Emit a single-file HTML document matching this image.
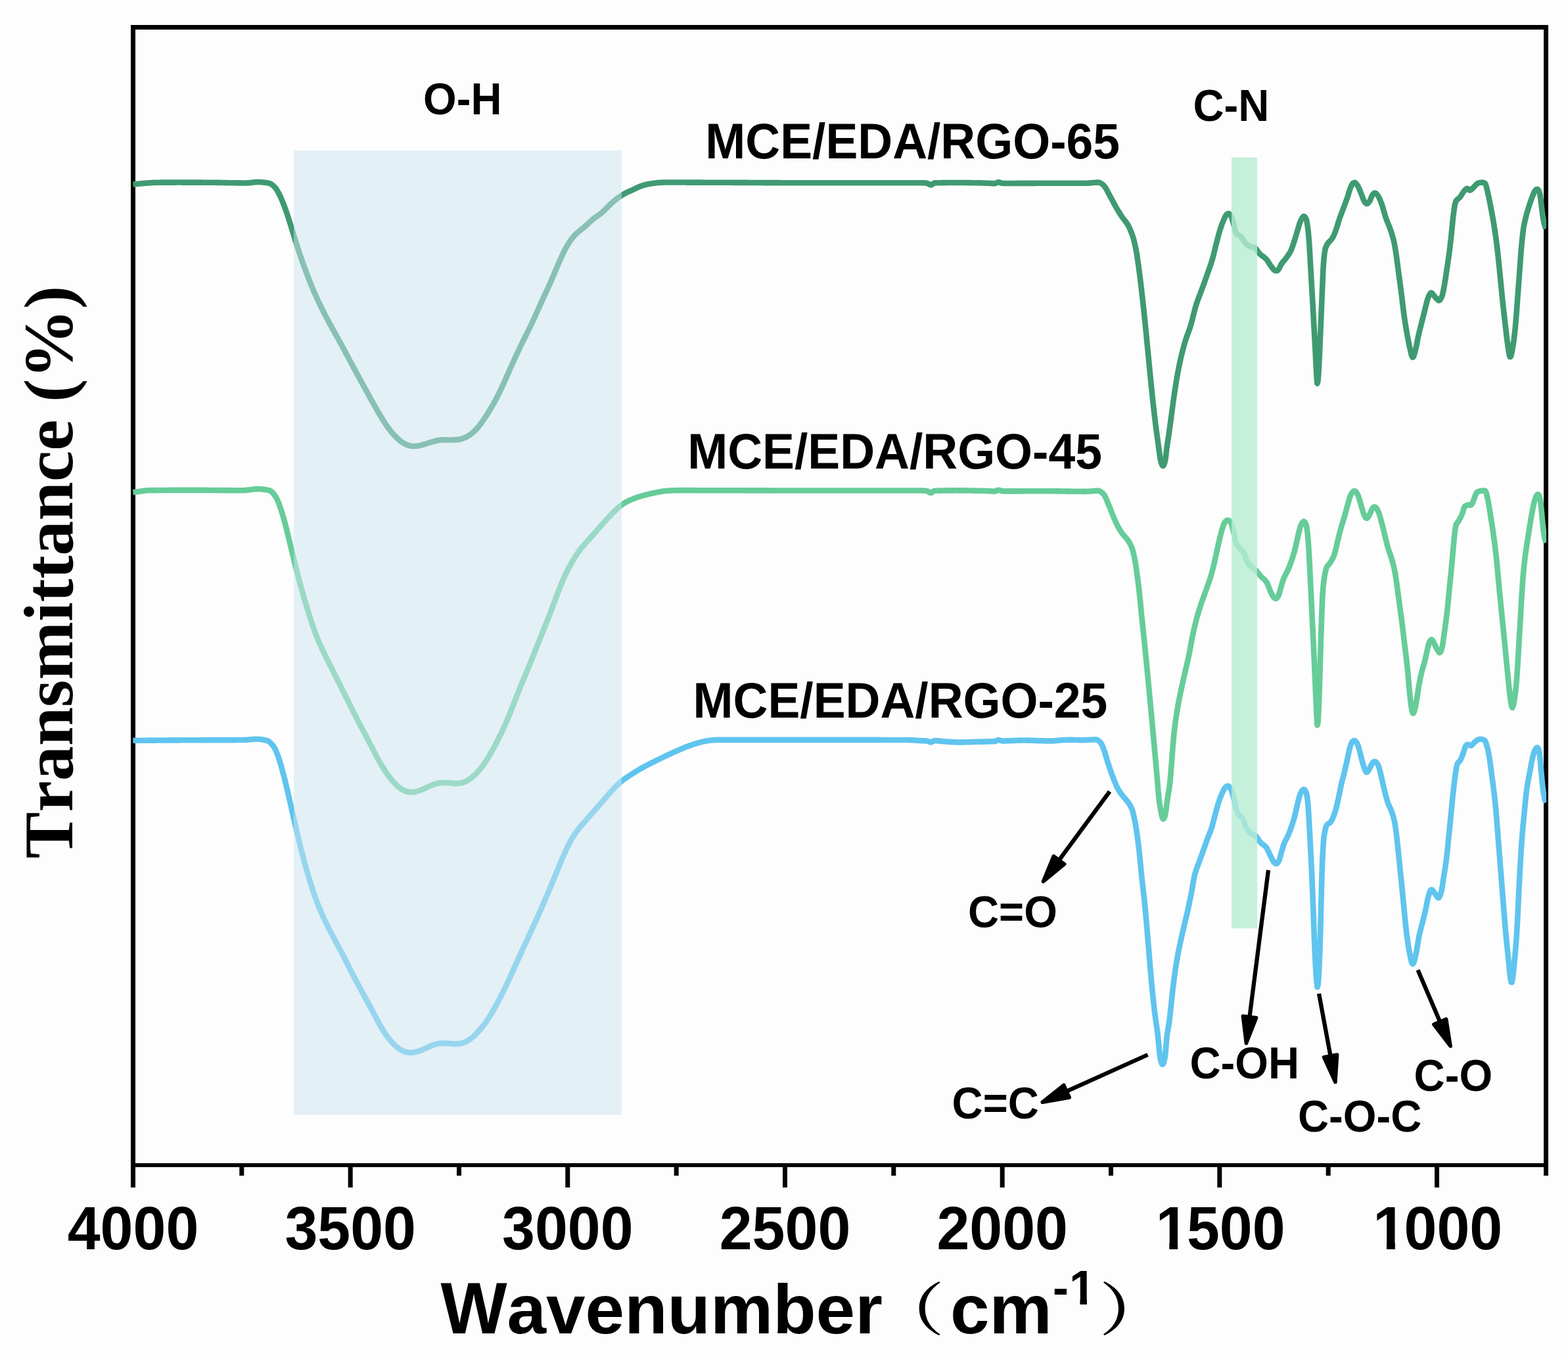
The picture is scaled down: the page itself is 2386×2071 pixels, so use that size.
<!DOCTYPE html>
<html lang="en"><head><meta charset="utf-8"><title>FTIR spectra</title>
<style>
html,body{margin:0;padding:0;background:#fdfdfd;}
body{width:2386px;height:2071px;overflow:hidden;}
svg{display:block;}
text{font-kerning:none;}
.a{font-family:"Liberation Sans",Arial,sans-serif;font-weight:bold;fill:#000;}
.s{font-family:"Liberation Serif","Times New Roman",serif;font-weight:bold;fill:#000;}
.c{font-family:"Noto Serif CJK SC","Noto Sans CJK SC",serif;font-weight:600;fill:#000;}
</style></head>
<body>
<svg xmlns="http://www.w3.org/2000/svg" width="2386" height="2071" viewBox="0 0 2386 2071">
<rect x="0" y="0" width="2386" height="2071" fill="#fdfdfd"/>
<defs><clipPath id="plot"><rect x="202.0" y="45" width="2151.0" height="1725"/></clipPath></defs>
<g fill="#000">
<rect x="199" y="38" width="2157" height="7"/>
<rect x="199" y="38" width="7" height="1769"/>
<rect x="2349" y="38" width="7" height="1751"/>
<rect x="199" y="1770" width="2157" height="6"/>
<rect x="529.7" y="1770" width="7" height="37"/>
<rect x="860.3" y="1770" width="7" height="37"/>
<rect x="1191.0" y="1770" width="7" height="37"/>
<rect x="1521.7" y="1770" width="7" height="37"/>
<rect x="1852.3" y="1770" width="7" height="37"/>
<rect x="2183.0" y="1770" width="7" height="37"/>
<rect x="364.3" y="1770" width="7" height="19"/>
<rect x="695.0" y="1770" width="7" height="19"/>
<rect x="1025.7" y="1770" width="7" height="19"/>
<rect x="1356.3" y="1770" width="7" height="19"/>
<rect x="1687.0" y="1770" width="7" height="19"/>
<rect x="2017.7" y="1770" width="7" height="19"/>
</g>
<g fill="none" stroke-width="8.6" stroke-linejoin="round" stroke-linecap="butt" clip-path="url(#plot)">
<path stroke="#3f9a72" d="M202.5 280.6L203.5 280.5L204.5 280.4L205.5 280.3L206.5 280.1L207.5 280.0L208.5 279.9L209.5 279.8L210.5 279.7L211.5 279.6L212.5 279.5L213.5 279.4L214.5 279.3L215.0 279.3L215.5 279.3L216.5 279.2L217.5 279.1L218.5 279.0L219.5 278.9L220.5 278.8L221.5 278.7L222.5 278.7L223.5 278.6L224.5 278.5L225.5 278.4L226.5 278.3L227.5 278.2L228.5 278.2L229.5 278.1L230.5 278.0L231.5 278.0L232.5 277.9L233.5 277.9L234.5 277.8L235.5 277.8L236.5 277.7L237.5 277.7L238.5 277.7L238.7 277.7L239.5 277.7L240.5 277.7L241.5 277.7L242.5 277.7L243.5 277.7L244.5 277.6L245.5 277.6L246.5 277.6L247.5 277.6L248.5 277.6L249.5 277.6L250.5 277.6L251.5 277.6L252.5 277.6L253.5 277.6L254.5 277.6L255.5 277.6L256.5 277.6L257.5 277.6L258.5 277.6L259.5 277.6L260.5 277.6L261.5 277.6L262.5 277.6L263.5 277.6L264.5 277.6L265.5 277.6L266.5 277.6L267.5 277.6L268.5 277.5L269.5 277.5L270.5 277.5L271.5 277.5L272.5 277.5L273.5 277.5L274.5 277.5L275.5 277.5L276.5 277.5L277.5 277.6L278.5 277.6L279.5 277.6L280.5 277.6L281.5 277.6L282.5 277.6L283.5 277.6L284.5 277.6L285.5 277.6L286.5 277.6L287.5 277.6L288.5 277.6L289.5 277.6L290.5 277.6L291.5 277.6L292.5 277.6L293.5 277.6L294.5 277.6L295.5 277.6L296.5 277.6L297.5 277.6L298.5 277.6L299.5 277.6L300.5 277.6L301.5 277.6L302.5 277.6L303.5 277.6L304.5 277.6L305.5 277.6L306.5 277.6L307.5 277.7L308.5 277.7L309.5 277.7L310.5 277.7L311.5 277.7L312.5 277.7L313.5 277.7L314.5 277.7L315.5 277.7L316.2 277.7L316.5 277.7L317.5 277.7L318.5 277.7L319.5 277.7L320.5 277.7L321.5 277.7L322.5 277.8L323.5 277.8L324.5 277.8L325.5 277.8L326.5 277.8L327.5 277.8L328.5 277.8L329.5 277.8L330.5 277.9L331.5 277.9L332.5 277.9L333.5 277.9L334.5 277.9L335.5 277.9L336.5 278.0L337.5 278.0L338.5 278.0L339.5 278.0L340.5 278.0L341.5 278.1L342.5 278.1L343.5 278.1L344.5 278.1L345.5 278.1L346.5 278.1L347.5 278.2L348.5 278.2L349.5 278.2L350.5 278.2L351.5 278.2L352.5 278.3L353.5 278.3L354.5 278.3L355.5 278.3L356.5 278.3L357.5 278.3L358.5 278.4L359.5 278.4L360.5 278.4L361.5 278.4L362.5 278.4L363.5 278.4L364.5 278.4L365.5 278.4L366.5 278.5L367.5 278.5L368.5 278.5L369.5 278.5L370.5 278.5L371.5 278.5L372.5 278.5L373.5 278.5L374.3 278.5L374.5 278.5L375.5 278.5L376.5 278.4L377.5 278.4L378.5 278.3L379.5 278.2L380.5 278.1L381.5 278.0L382.5 277.9L383.5 277.8L384.5 277.6L385.5 277.5L386.5 277.4L387.5 277.3L388.5 277.2L389.5 277.1L389.8 277.1L390.5 277.1L391.5 277.0L392.5 277.0L393.5 277.0L394.5 277.0L395.5 277.1L396.5 277.1L397.5 277.2L398.5 277.3L399.5 277.4L400.5 277.5L401.5 277.6L402.5 277.7L403.5 277.8L404.5 277.9L405.5 278.1L406.5 278.2L407.5 278.4L408.5 278.6L409.2 278.7L409.5 278.8L410.5 279.1L411.5 279.5L412.5 280.1L413.5 280.7L414.5 281.5L415.5 282.3L416.5 283.2L417.5 284.2L418.5 285.2L418.9 285.7L419.5 286.4L420.5 287.8L421.5 289.3L422.5 291.1L423.5 292.9L424.5 294.8L425.5 296.9L426.5 298.9L426.6 299.2L427.5 301.1L428.5 303.4L429.5 305.8L430.5 308.2L431.5 310.8L432.5 313.4L433.5 316.1L434.4 318.5L434.5 318.8L435.5 321.6L436.5 324.5L437.5 327.5L438.5 330.5L439.5 333.6L440.5 336.7L441.5 339.9L442.1 341.8L442.5 343.1L443.5 346.4L444.5 349.7L445.5 353.0L446.5 356.3L447.0 357.9L447.5 359.5L448.5 362.8L449.5 366.0L450.5 369.2L451.5 372.4L452.5 375.5L453.5 378.6L454.5 381.6L455.5 384.6L455.7 385.2L456.5 387.6L457.5 390.5L458.5 393.4L459.5 396.3L460.5 399.1L461.5 401.9L462.5 404.7L463.5 407.5L464.5 410.2L465.5 412.9L466.5 415.6L467.5 418.3L468.5 420.9L469.5 423.5L470.5 426.0L471.2 427.8L471.5 428.6L472.5 431.0L473.5 433.5L474.5 435.9L475.5 438.4L476.5 440.7L477.5 443.1L478.5 445.4L479.5 447.6L480.5 449.9L481.5 452.1L482.5 454.3L482.8 455.0L483.5 456.5L484.5 458.6L485.5 460.7L486.5 462.8L487.5 464.9L488.5 466.9L489.5 469.0L490.5 471.0L491.5 473.0L492.5 475.0L493.5 476.9L494.5 478.9L495.5 480.8L496.5 482.7L497.5 484.6L498.3 486.1L498.5 486.5L499.5 488.4L500.5 490.2L501.5 492.1L502.5 493.9L503.5 495.7L504.5 497.5L505.5 499.3L506.5 501.1L507.5 502.9L508.5 504.7L509.5 506.5L510.5 508.3L511.5 510.1L512.5 511.9L513.5 513.7L514.5 515.5L515.5 517.3L516.5 519.1L517.5 521.0L517.7 521.3L518.5 522.8L519.5 524.6L520.5 526.5L521.5 528.3L522.5 530.2L523.5 532.0L524.5 533.9L525.5 535.8L526.5 537.6L527.5 539.5L528.5 541.4L529.5 543.3L530.5 545.1L531.5 547.0L532.5 548.9L533.2 550.2L533.5 550.7L534.5 552.6L535.5 554.4L536.5 556.3L537.5 558.2L538.5 560.0L539.5 561.9L540.5 563.7L541.5 565.6L542.5 567.4L543.5 569.3L544.5 571.1L545.5 572.9L546.5 574.8L547.5 576.6L548.5 578.5L549.5 580.3L550.5 582.1L551.5 584.0L552.5 585.8L553.5 587.6L554.5 589.4L555.5 591.3L556.4 592.9L556.5 593.1L557.5 594.9L558.5 596.7L559.5 598.5L560.5 600.3L561.5 602.2L562.5 604.0L563.5 605.8L564.5 607.6L565.5 609.4L566.5 611.2L567.5 613.0L568.5 614.7L569.5 616.5L570.5 618.3L571.5 620.0L572.5 621.8L573.5 623.5L574.5 625.3L575.5 627.0L576.5 628.7L577.5 630.4L578.5 632.1L579.5 633.7L580.5 635.4L581.5 637.0L582.5 638.6L583.5 640.2L584.5 641.8L585.5 643.4L586.5 644.9L587.5 646.4L588.5 647.8L589.5 649.3L590.5 650.7L591.0 651.4L591.5 652.0L592.5 653.4L593.5 654.7L594.5 655.9L595.5 657.2L596.5 658.4L597.5 659.5L598.5 660.7L599.5 661.8L600.5 662.9L601.5 663.9L602.5 664.9L603.5 665.9L604.5 666.9L604.6 667.0L605.5 667.8L606.5 668.7L607.5 669.5L608.5 670.4L609.5 671.2L610.5 671.9L611.5 672.6L612.5 673.3L613.5 674.0L614.5 674.6L615.5 675.1L616.2 675.5L616.5 675.7L617.5 676.2L618.5 676.6L619.5 677.0L620.5 677.4L621.5 677.7L622.5 678.0L623.5 678.3L624.5 678.5L625.5 678.7L626.5 678.8L627.5 678.9L627.8 679.0L628.5 679.0L629.5 679.0L630.5 679.0L631.5 679.0L632.5 678.9L633.5 678.8L634.5 678.7L635.5 678.6L636.5 678.4L637.5 678.2L638.5 678.0L639.5 677.8L640.5 677.5L641.5 677.3L642.5 677.0L643.5 676.7L644.5 676.4L645.5 676.1L646.5 675.8L647.5 675.5L648.5 675.2L649.5 674.9L650.5 674.6L651.5 674.2L652.5 673.9L653.5 673.6L654.5 673.3L655.0 673.1L655.5 673.0L656.5 672.7L657.5 672.4L658.5 672.1L659.5 671.8L660.5 671.5L661.5 671.2L662.5 671.0L663.5 670.7L664.5 670.5L665.5 670.3L666.5 670.1L667.5 670.0L668.5 669.8L669.5 669.7L670.5 669.6L671.5 669.5L672.5 669.5L673.5 669.4L674.5 669.4L675.5 669.4L676.5 669.4L677.5 669.4L678.5 669.4L679.5 669.4L680.5 669.5L681.5 669.5L682.5 669.5L683.5 669.5L684.5 669.5L685.5 669.5L686.0 669.5L686.5 669.5L687.5 669.5L688.5 669.5L689.5 669.4L690.5 669.4L691.5 669.3L692.5 669.3L693.5 669.2L694.5 669.1L695.5 669.1L696.5 668.9L697.5 668.8L698.5 668.7L699.5 668.5L700.5 668.3L701.5 668.0L702.5 667.8L703.5 667.4L704.5 667.1L705.5 666.7L706.5 666.3L707.5 665.9L708.5 665.4L709.5 664.9L710.5 664.4L711.1 664.1L711.5 663.8L712.5 663.3L713.5 662.6L714.5 662.0L715.5 661.3L716.5 660.6L717.5 659.8L718.5 659.0L719.5 658.2L720.5 657.3L721.5 656.4L722.5 655.4L722.8 655.1L723.5 654.4L724.5 653.4L725.5 652.3L726.5 651.1L727.5 649.9L728.5 648.7L729.5 647.5L730.5 646.2L731.5 644.8L732.5 643.5L733.5 642.1L734.5 640.7L735.5 639.2L736.3 638.1L736.5 637.8L737.5 636.3L738.5 634.8L739.5 633.3L740.5 631.7L741.5 630.2L742.5 628.6L743.5 627.0L744.5 625.4L745.5 623.7L746.5 622.0L747.5 620.3L748.5 618.6L749.5 616.9L750.5 615.1L751.5 613.3L751.8 612.8L752.5 611.5L753.5 609.7L754.5 607.8L755.5 605.9L756.5 604.0L757.5 602.0L758.5 600.0L759.5 598.0L760.5 596.0L761.5 593.9L762.5 591.8L763.5 589.7L764.5 587.6L765.4 585.7L765.5 585.4L766.5 583.2L767.5 581.0L768.5 578.8L769.5 576.6L770.5 574.3L771.5 572.0L772.5 569.8L773.5 567.5L774.5 565.2L775.5 562.9L776.5 560.6L777.5 558.4L778.5 556.1L778.9 555.2L779.5 553.9L780.5 551.7L781.5 549.5L782.5 547.3L783.5 545.1L784.5 543.0L785.5 540.8L786.5 538.7L787.5 536.5L788.5 534.4L789.5 532.3L790.5 530.2L791.5 528.1L792.5 526.1L793.5 524.0L794.4 522.2L794.5 522.0L795.5 519.9L796.5 517.9L797.5 515.9L798.5 513.9L799.5 511.9L800.5 509.9L801.5 507.9L802.5 505.9L803.5 503.8L804.5 501.8L805.5 499.8L806.5 497.8L807.5 495.7L808.5 493.6L809.5 491.5L809.9 490.7L810.5 489.4L811.5 487.2L812.5 485.1L813.5 482.9L814.5 480.7L815.5 478.5L816.5 476.3L817.5 474.0L818.5 471.8L819.5 469.5L820.5 467.3L821.5 465.1L822.5 462.8L823.5 460.6L824.5 458.4L825.4 456.4L825.5 456.2L826.5 454.0L827.5 451.8L828.5 449.7L829.5 447.5L830.5 445.4L831.5 443.2L832.5 441.0L833.5 438.9L834.5 436.7L835.5 434.5L836.5 432.3L837.5 430.1L838.5 427.8L839.0 426.7L839.5 425.5L840.5 423.2L841.5 420.9L842.5 418.5L843.5 416.2L844.5 413.8L845.5 411.4L846.5 409.0L847.5 406.6L848.5 404.3L849.5 401.9L850.5 399.6L851.5 397.3L852.5 395.1L853.5 392.9L854.2 391.3L854.5 390.7L855.5 388.5L856.5 386.4L857.5 384.4L858.5 382.4L859.5 380.4L860.5 378.5L861.5 376.7L862.5 374.9L863.5 373.2L864.5 371.5L865.5 369.9L866.5 368.4L867.5 366.9L867.8 366.5L868.5 365.5L869.5 364.1L870.5 362.8L871.5 361.6L872.5 360.4L873.5 359.3L874.5 358.2L875.5 357.1L876.5 356.1L877.5 355.2L878.5 354.2L879.4 353.4L879.5 353.3L880.5 352.5L881.5 351.6L882.5 350.8L883.5 350.0L884.5 349.2L885.5 348.4L886.5 347.6L887.5 346.8L888.5 346.0L889.5 345.2L890.5 344.3L891.0 343.9L891.5 343.4L892.5 342.5L893.5 341.6L894.5 340.7L895.5 339.8L896.5 338.8L897.5 337.9L898.5 337.0L899.5 336.0L900.5 335.2L901.5 334.3L902.5 333.4L902.7 333.3L903.5 332.6L904.5 331.9L905.5 331.1L906.5 330.4L907.5 329.7L908.5 329.0L909.5 328.3L910.5 327.6L911.5 326.9L912.5 326.1L913.5 325.4L914.5 324.6L915.5 323.8L916.2 323.2L916.5 322.9L917.5 322.0L918.5 321.1L919.5 320.1L920.5 319.1L921.5 318.1L922.5 317.1L923.5 316.1L924.5 315.1L925.5 314.1L925.9 313.7L926.5 313.1L927.5 312.1L928.5 311.1L929.5 310.2L930.5 309.3L931.5 308.4L932.5 307.5L933.5 306.7L934.5 305.8L935.5 305.0L936.5 304.2L937.5 303.4L938.5 302.6L939.5 301.8L940.5 301.1L941.5 300.4L942.5 299.6L943.5 298.9L944.5 298.2L945.5 297.6L946.5 296.9L947.5 296.3L948.5 295.7L949.5 295.1L950.5 294.6L951.1 294.3L951.5 294.0L952.5 293.5L953.5 293.0L954.5 292.6L955.5 292.1L956.5 291.7L957.5 291.2L958.5 290.8L959.5 290.3L960.5 289.9L961.5 289.4L962.5 289.0L962.7 288.9L963.5 288.5L964.5 288.0L965.5 287.6L966.5 287.1L967.5 286.6L968.5 286.1L969.5 285.7L970.5 285.2L971.5 284.8L972.5 284.3L973.5 283.9L974.3 283.6L974.5 283.5L975.5 283.1L976.5 282.8L977.5 282.4L978.5 282.1L979.5 281.8L980.5 281.5L981.5 281.3L982.5 281.0L983.5 280.7L984.5 280.5L985.5 280.3L986.5 280.1L987.5 279.9L988.5 279.7L989.5 279.6L989.8 279.5L990.5 279.4L991.5 279.2L992.5 279.1L993.5 279.0L994.5 278.8L995.5 278.7L996.5 278.6L997.5 278.4L998.5 278.3L999.5 278.2L1000.5 278.1L1001.5 278.0L1002.5 277.9L1003.5 277.9L1004.5 277.8L1005.5 277.7L1006.5 277.7L1007.5 277.6L1008.5 277.6L1009.2 277.6L1009.5 277.6L1010.5 277.6L1011.5 277.5L1012.5 277.5L1013.5 277.5L1014.5 277.5L1015.5 277.5L1016.5 277.5L1017.5 277.5L1018.5 277.5L1019.5 277.5L1020.5 277.5L1021.5 277.5L1022.5 277.5L1023.5 277.5L1024.5 277.5L1025.5 277.5L1026.5 277.5L1027.5 277.5L1028.5 277.5L1029.5 277.5L1030.5 277.5L1031.5 277.5L1032.4 277.5L1032.5 277.5L1033.5 277.5L1034.5 277.5L1035.5 277.5L1036.5 277.5L1037.5 277.5L1038.5 277.5L1039.5 277.5L1040.5 277.5L1041.5 277.5L1042.5 277.5L1043.5 277.5L1044.5 277.5L1045.5 277.6L1046.5 277.6L1047.5 277.6L1048.5 277.6L1049.5 277.6L1050.5 277.6L1051.5 277.6L1052.5 277.6L1053.5 277.6L1054.5 277.6L1055.5 277.6L1056.5 277.6L1057.5 277.6L1058.5 277.6L1059.5 277.6L1060.5 277.6L1061.5 277.6L1062.5 277.6L1063.5 277.6L1064.5 277.6L1065.5 277.6L1066.5 277.6L1067.5 277.6L1068.5 277.6L1069.5 277.7L1070.5 277.7L1071.5 277.7L1072.5 277.7L1073.5 277.7L1074.5 277.7L1075.5 277.7L1076.5 277.7L1077.5 277.7L1078.5 277.7L1079.5 277.7L1080.5 277.7L1081.5 277.7L1082.5 277.7L1083.5 277.7L1084.5 277.7L1085.5 277.7L1086.5 277.7L1087.5 277.7L1088.5 277.7L1089.5 277.7L1090.5 277.7L1091.5 277.7L1092.5 277.8L1093.5 277.8L1094.5 277.8L1095.5 277.8L1096.5 277.8L1097.5 277.8L1098.5 277.8L1099.5 277.8L1100.5 277.8L1101.5 277.8L1102.5 277.8L1103.5 277.8L1104.5 277.8L1105.5 277.8L1106.5 277.8L1107.5 277.8L1108.5 277.8L1109.5 277.8L1110.5 277.8L1111.5 277.8L1112.5 277.8L1113.5 277.8L1114.5 277.8L1115.5 277.9L1116.5 277.9L1117.5 277.9L1118.5 277.9L1119.5 277.9L1120.5 277.9L1121.5 277.9L1122.5 277.9L1123.5 277.9L1124.5 277.9L1125.5 277.9L1126.5 277.9L1127.5 277.9L1128.5 277.9L1129.5 277.9L1130.5 277.9L1131.5 277.9L1132.5 277.9L1133.5 277.9L1134.5 277.9L1135.5 277.9L1136.5 277.9L1137.5 277.9L1138.5 278.0L1139.5 278.0L1140.5 278.0L1141.5 278.0L1142.5 278.0L1143.5 278.0L1144.5 278.0L1145.5 278.0L1146.5 278.0L1147.5 278.0L1148.5 278.0L1149.5 278.0L1150.5 278.0L1151.5 278.0L1152.5 278.0L1153.5 278.0L1154.5 278.0L1155.5 278.0L1156.5 278.0L1157.5 278.0L1158.5 278.0L1159.5 278.0L1160.5 278.0L1161.5 278.0L1162.5 278.1L1163.5 278.1L1164.5 278.1L1165.5 278.1L1166.5 278.1L1167.5 278.1L1168.5 278.1L1169.5 278.1L1170.5 278.1L1171.5 278.1L1172.5 278.1L1173.5 278.1L1174.5 278.1L1175.5 278.1L1176.5 278.1L1177.5 278.1L1178.5 278.1L1179.5 278.1L1180.5 278.1L1181.5 278.1L1182.5 278.1L1183.5 278.1L1184.5 278.1L1185.5 278.1L1186.5 278.1L1187.5 278.2L1188.5 278.2L1189.5 278.2L1190.5 278.2L1191.5 278.2L1192.5 278.2L1193.5 278.2L1194.5 278.2L1195.5 278.2L1196.5 278.2L1197.5 278.2L1198.5 278.2L1199.5 278.2L1200.0 278.2L1200.5 278.2L1201.5 278.2L1202.5 278.2L1203.5 278.2L1204.5 278.2L1205.5 278.2L1206.5 278.2L1207.5 278.2L1208.5 278.2L1209.5 278.2L1210.5 278.2L1211.5 278.2L1212.5 278.2L1213.5 278.2L1214.5 278.2L1215.5 278.2L1216.5 278.3L1217.5 278.3L1218.5 278.3L1219.5 278.3L1220.5 278.3L1221.5 278.3L1222.5 278.3L1223.5 278.3L1224.5 278.3L1225.5 278.3L1226.5 278.3L1227.5 278.3L1228.5 278.3L1229.5 278.3L1230.5 278.3L1231.5 278.3L1232.5 278.3L1233.5 278.3L1234.5 278.3L1235.5 278.3L1236.5 278.3L1237.5 278.3L1238.5 278.3L1239.5 278.3L1240.5 278.3L1241.5 278.3L1242.5 278.3L1243.5 278.3L1244.5 278.3L1245.5 278.3L1246.5 278.3L1247.5 278.3L1248.5 278.3L1249.5 278.3L1250.5 278.3L1251.5 278.3L1252.5 278.3L1253.5 278.3L1254.5 278.3L1255.5 278.3L1256.5 278.3L1257.5 278.3L1258.5 278.3L1259.5 278.3L1260.5 278.3L1261.5 278.3L1262.5 278.3L1263.5 278.3L1264.5 278.3L1265.5 278.3L1266.5 278.3L1267.5 278.3L1268.5 278.3L1269.5 278.3L1270.5 278.3L1271.5 278.3L1272.5 278.3L1273.5 278.3L1274.5 278.3L1275.5 278.3L1276.5 278.3L1277.5 278.3L1278.5 278.3L1279.5 278.3L1280.5 278.3L1281.5 278.3L1282.5 278.3L1283.5 278.3L1284.5 278.3L1285.5 278.3L1286.5 278.3L1287.5 278.3L1288.5 278.3L1289.5 278.3L1290.5 278.3L1291.5 278.3L1292.5 278.3L1293.5 278.3L1294.5 278.3L1295.5 278.3L1296.5 278.3L1297.5 278.3L1298.5 278.3L1299.5 278.3L1300.5 278.3L1301.5 278.3L1302.5 278.3L1303.5 278.3L1304.5 278.3L1305.5 278.3L1306.5 278.3L1307.5 278.3L1308.5 278.3L1309.5 278.3L1310.5 278.3L1311.5 278.3L1312.5 278.3L1313.5 278.3L1314.5 278.3L1315.5 278.3L1316.5 278.3L1317.5 278.3L1318.5 278.3L1319.5 278.3L1320.5 278.3L1321.5 278.3L1322.5 278.3L1323.5 278.3L1324.5 278.3L1325.5 278.3L1326.5 278.3L1327.5 278.3L1328.5 278.3L1329.5 278.2L1330.5 278.2L1331.5 278.2L1332.5 278.2L1333.5 278.2L1334.5 278.2L1335.5 278.2L1336.5 278.2L1337.5 278.2L1338.5 278.2L1339.5 278.2L1340.5 278.2L1341.5 278.2L1342.5 278.2L1343.5 278.2L1344.5 278.2L1345.5 278.2L1346.5 278.2L1347.5 278.2L1348.5 278.2L1349.5 278.2L1350.5 278.2L1351.5 278.2L1352.5 278.2L1353.5 278.2L1354.5 278.2L1355.5 278.2L1356.5 278.2L1357.5 278.2L1358.5 278.2L1359.5 278.2L1360.5 278.2L1361.5 278.2L1362.5 278.2L1363.5 278.2L1364.5 278.2L1365.5 278.2L1366.5 278.2L1367.5 278.2L1368.5 278.2L1369.5 278.2L1370.5 278.2L1371.5 278.2L1372.5 278.2L1373.5 278.2L1374.5 278.2L1375.5 278.2L1376.5 278.2L1377.5 278.2L1378.5 278.2L1379.5 278.2L1380.5 278.2L1381.5 278.2L1382.5 278.2L1383.5 278.2L1384.5 278.2L1385.5 278.2L1386.5 278.2L1387.5 278.2L1388.5 278.2L1389.5 278.2L1390.5 278.2L1391.5 278.2L1392.5 278.2L1393.5 278.2L1394.5 278.2L1395.5 278.2L1396.5 278.2L1397.5 278.2L1398.5 278.2L1399.5 278.2L1400.0 278.2L1400.5 278.2L1401.5 278.2L1402.5 278.2L1403.5 278.3L1404.5 278.3L1405.5 278.3L1406.5 278.4L1407.5 278.5L1408.5 278.5L1409.5 278.6L1410.0 278.6L1410.5 278.7L1411.5 279.1L1412.5 279.6L1413.5 280.2L1414.5 280.8L1415.5 281.3L1416.5 281.4L1417.5 281.2L1418.5 280.6L1419.5 279.8L1420.5 279.0L1421.5 278.6L1422.0 278.4L1422.5 278.4L1423.5 278.4L1424.5 278.3L1425.5 278.3L1426.5 278.3L1427.5 278.3L1428.5 278.2L1429.5 278.2L1430.5 278.2L1431.5 278.2L1432.5 278.2L1433.5 278.1L1434.5 278.1L1435.5 278.1L1436.5 278.1L1437.5 278.1L1438.5 278.1L1439.5 278.0L1440.5 278.0L1441.5 278.0L1442.5 278.0L1443.5 278.0L1444.5 278.0L1445.5 278.0L1446.5 278.0L1447.5 278.0L1448.5 278.0L1449.5 278.0L1450.5 278.0L1451.5 278.0L1452.5 278.0L1453.5 278.0L1454.5 278.0L1455.5 278.0L1456.5 278.0L1457.5 278.0L1458.5 278.0L1459.5 278.0L1460.5 278.0L1461.5 278.0L1462.5 278.0L1463.5 278.0L1464.5 278.0L1465.5 278.0L1466.5 278.0L1467.5 278.0L1468.5 278.0L1469.5 278.0L1470.5 278.0L1471.5 278.1L1472.5 278.1L1473.5 278.1L1474.5 278.1L1475.5 278.1L1476.5 278.1L1477.5 278.1L1478.5 278.1L1479.5 278.2L1480.5 278.2L1481.5 278.2L1482.5 278.2L1483.5 278.2L1484.5 278.3L1485.5 278.3L1486.5 278.3L1487.5 278.3L1488.5 278.3L1489.5 278.4L1490.5 278.4L1491.5 278.4L1492.5 278.4L1493.5 278.4L1494.5 278.5L1495.5 278.5L1496.5 278.5L1497.5 278.5L1498.5 278.6L1499.5 278.6L1500.0 278.6L1500.5 278.6L1501.5 278.7L1502.5 278.7L1503.5 278.7L1504.5 278.8L1505.5 278.8L1506.5 278.9L1507.5 279.0L1508.5 279.0L1509.5 279.1L1510.5 279.1L1511.5 279.1L1512.5 279.2L1513.5 279.2L1514.0 279.2L1514.5 279.1L1515.5 278.7L1516.5 278.2L1517.5 277.7L1518.5 277.3L1519.0 277.3L1519.5 277.3L1520.5 277.4L1521.5 277.7L1522.5 278.1L1523.5 278.5L1524.5 278.8L1525.5 278.9L1526.0 279.0L1526.5 279.0L1527.5 279.0L1528.5 279.0L1529.5 279.0L1530.5 279.0L1531.5 279.0L1532.5 279.0L1533.5 279.0L1534.5 279.0L1535.5 279.0L1536.5 279.0L1537.5 279.0L1538.5 279.0L1539.5 279.0L1540.5 279.0L1541.5 279.0L1542.5 279.0L1543.5 279.0L1544.5 279.0L1545.5 279.0L1546.5 279.0L1547.5 278.9L1548.5 278.9L1549.5 278.9L1550.5 278.9L1551.5 278.9L1552.5 278.9L1553.5 278.9L1554.5 278.9L1555.5 278.9L1556.5 278.9L1557.5 278.9L1558.5 278.9L1559.5 278.9L1560.5 278.9L1561.5 278.9L1562.5 278.9L1563.5 278.9L1564.5 278.9L1565.5 278.9L1566.5 278.9L1567.5 278.9L1568.5 278.9L1569.5 278.9L1570.5 278.9L1571.5 278.9L1572.5 278.9L1573.5 278.9L1574.5 278.9L1575.5 278.9L1576.5 278.8L1577.5 278.8L1578.5 278.8L1579.5 278.8L1580.5 278.8L1581.5 278.8L1582.5 278.8L1583.5 278.8L1584.5 278.8L1585.5 278.8L1586.5 278.8L1587.5 278.8L1588.5 278.8L1589.5 278.8L1590.5 278.8L1591.5 278.8L1592.5 278.8L1593.5 278.8L1594.5 278.8L1595.5 278.8L1596.5 278.8L1597.5 278.8L1598.5 278.8L1599.5 278.8L1600.0 278.8L1600.5 278.8L1601.5 278.8L1602.5 278.8L1603.5 278.8L1604.5 278.8L1605.5 278.8L1606.5 278.8L1607.5 278.8L1608.5 278.8L1609.5 278.8L1610.5 278.8L1611.5 278.8L1612.5 278.8L1613.5 278.8L1614.5 278.8L1615.5 278.8L1616.5 278.8L1617.5 278.8L1618.5 278.8L1619.5 278.8L1620.5 278.8L1621.5 278.8L1622.5 278.8L1623.5 278.8L1624.5 278.8L1625.5 278.8L1626.5 278.8L1627.5 278.8L1628.5 278.8L1629.5 278.8L1630.5 278.8L1631.5 278.8L1632.5 278.8L1633.5 278.8L1634.5 278.8L1635.5 278.8L1636.5 278.8L1637.5 278.8L1638.5 278.8L1639.5 278.8L1640.5 278.8L1641.5 278.8L1642.5 278.8L1643.5 278.8L1644.5 278.8L1645.5 278.8L1646.5 278.8L1647.5 278.8L1648.5 278.8L1649.5 278.8L1650.0 278.8L1650.5 278.8L1651.5 278.8L1652.5 278.8L1653.5 278.7L1654.5 278.7L1655.5 278.6L1656.5 278.6L1657.5 278.5L1658.5 278.4L1659.5 278.3L1660.5 278.2L1661.5 278.2L1662.5 278.1L1663.5 278.0L1664.5 277.9L1665.5 277.8L1666.5 277.8L1667.5 277.7L1668.5 277.6L1669.5 277.6L1670.5 277.5L1670.9 277.5L1671.5 277.5L1672.5 277.7L1673.5 278.0L1674.5 278.5L1675.5 279.1L1676.5 279.7L1677.5 280.5L1678.5 281.3L1679.5 282.2L1679.6 282.3L1680.5 283.3L1681.5 284.6L1682.5 286.1L1683.5 287.9L1684.5 289.7L1685.5 291.6L1686.5 293.6L1687.5 295.4L1688.4 297.1L1688.5 297.3L1689.5 299.1L1690.5 300.9L1691.5 302.8L1692.5 304.6L1693.5 306.5L1694.5 308.4L1695.5 310.3L1696.5 312.1L1697.5 313.9L1698.5 315.7L1698.8 316.2L1699.5 317.4L1700.5 319.1L1701.5 320.7L1702.5 322.4L1703.5 324.0L1704.5 325.6L1705.5 327.2L1706.5 328.7L1707.5 330.2L1708.5 331.6L1709.5 332.9L1710.5 334.2L1711.5 335.4L1712.5 336.7L1713.5 338.0L1714.5 339.4L1715.4 340.7L1715.5 340.9L1716.5 342.6L1717.5 344.5L1718.5 346.6L1719.5 348.8L1720.5 351.2L1721.5 353.7L1722.5 356.3L1723.2 358.2L1723.5 359.0L1724.5 362.2L1725.5 365.8L1726.5 369.9L1727.5 374.3L1728.5 379.1L1729.5 384.6L1730.5 390.8L1731.5 397.6L1732.5 404.8L1732.8 407.0L1733.5 412.2L1734.5 420.1L1735.5 428.3L1736.1 433.1L1736.5 436.7L1737.5 445.3L1738.5 454.0L1739.5 463.0L1740.2 469.7L1740.5 472.2L1741.5 481.7L1742.5 491.5L1743.5 501.4L1744.0 506.0L1744.5 511.5L1745.5 521.8L1746.5 532.1L1747.5 542.5L1748.5 552.8L1749.5 563.1L1750.5 573.3L1751.1 578.9L1751.5 583.2L1752.5 593.0L1753.5 602.7L1754.5 612.0L1754.9 615.3L1755.5 621.0L1756.5 629.7L1757.5 638.2L1758.5 646.4L1759.2 651.7L1759.5 654.3L1760.5 661.7L1761.5 668.9L1762.5 676.0L1763.5 683.3L1764.2 688.4L1764.5 690.9L1765.2 695.9L1765.5 697.7L1765.9 699.7L1766.5 702.3L1766.9 703.8L1767.5 705.6L1768.5 708.0L1769.5 709.0L1769.6 709.0L1770.5 708.3L1771.5 706.2L1772.3 703.8L1772.5 703.1L1773.3 699.6L1773.5 698.4L1774.0 694.7L1774.5 690.1L1774.6 689.3L1775.5 681.5L1776.5 674.7L1777.5 668.4L1778.2 663.9L1778.5 661.6L1779.5 654.4L1780.5 647.1L1781.5 639.8L1781.5 639.7L1782.5 632.2L1783.5 624.7L1784.5 617.3L1784.7 615.5L1785.5 610.0L1786.5 602.9L1787.5 596.1L1788.2 591.3L1788.5 589.5L1789.5 583.2L1790.5 577.1L1791.5 571.3L1792.3 566.9L1792.5 565.9L1793.5 560.7L1794.5 555.6L1795.5 550.8L1796.5 546.3L1797.3 542.6L1797.5 542.0L1798.5 537.9L1799.5 533.9L1800.5 530.1L1801.5 526.4L1802.5 522.9L1803.5 519.5L1803.8 518.4L1804.5 516.3L1805.5 513.3L1806.5 510.5L1807.5 507.8L1808.5 505.1L1809.5 502.3L1810.5 499.5L1811.5 496.4L1812.2 494.0L1812.5 493.2L1813.5 489.5L1814.5 485.7L1815.5 481.6L1816.5 477.5L1817.5 473.5L1818.5 469.7L1819.5 466.1L1820.0 464.5L1820.5 462.9L1821.5 459.9L1822.5 457.0L1823.5 454.3L1824.5 451.7L1825.5 449.1L1826.5 446.5L1827.5 443.9L1828.5 441.3L1829.5 438.6L1829.6 438.3L1830.5 435.8L1831.5 433.0L1832.5 430.3L1833.5 427.5L1834.5 424.7L1835.5 421.9L1836.5 419.0L1837.5 416.2L1838.3 413.9L1838.5 413.3L1839.5 410.5L1840.5 407.7L1841.5 404.8L1842.5 401.9L1843.5 398.8L1844.5 395.6L1845.3 392.9L1845.5 392.2L1846.5 388.5L1847.5 384.4L1848.5 380.2L1849.5 376.1L1850.5 372.0L1851.5 368.1L1852.5 364.2L1853.5 360.3L1854.5 356.6L1855.5 353.1L1856.5 349.8L1856.6 349.4L1857.5 346.7L1858.5 343.8L1859.5 341.1L1860.5 338.5L1861.5 336.1L1861.8 335.4L1862.5 333.8L1863.5 331.5L1864.5 329.4L1865.5 327.7L1866.2 326.8L1866.5 326.5L1867.5 325.6L1868.5 325.1L1869.5 325.0L1870.0 325.1L1870.5 325.3L1871.5 326.1L1872.5 327.5L1873.5 329.3L1874.0 330.3L1874.5 331.6L1875.5 334.9L1876.5 338.6L1877.5 342.4L1878.5 346.3L1879.5 350.1L1880.5 353.3L1881.0 354.4L1881.5 355.3L1882.5 356.5L1883.5 357.3L1884.5 357.9L1885.5 358.3L1886.5 358.8L1887.5 359.5L1888.5 360.4L1888.8 360.8L1889.5 361.7L1890.5 363.2L1891.5 364.8L1892.5 366.3L1893.5 367.7L1894.1 368.5L1894.5 368.9L1895.5 370.0L1896.5 371.0L1897.5 371.9L1898.5 372.8L1899.5 373.6L1900.5 374.3L1901.0 374.6L1901.5 374.8L1902.5 375.2L1903.5 375.5L1904.5 375.7L1905.5 375.8L1906.5 376.0L1907.5 376.2L1908.5 376.6L1909.5 377.1L1909.8 377.4L1910.5 377.9L1911.5 379.0L1912.5 380.3L1913.5 381.7L1914.5 383.2L1915.5 384.5L1916.5 385.7L1916.7 386.0L1917.5 386.8L1918.5 387.7L1919.5 388.5L1920.5 389.2L1921.5 389.9L1922.5 390.6L1923.5 391.3L1924.5 392.1L1925.5 393.0L1926.5 394.0L1927.2 394.7L1927.5 395.1L1928.5 396.4L1929.5 397.9L1930.5 399.5L1931.5 401.1L1932.5 402.7L1933.5 404.2L1934.2 405.2L1934.5 405.6L1935.5 406.9L1936.5 408.2L1937.5 409.5L1938.5 410.5L1939.4 411.3L1939.5 411.3L1940.5 411.9L1941.5 412.2L1942.5 412.2L1943.5 411.9L1944.5 411.3L1944.6 411.2L1945.5 410.1L1946.5 408.4L1947.5 406.4L1948.5 404.3L1949.5 402.4L1949.9 401.8L1950.5 400.9L1951.5 399.5L1952.5 398.3L1953.5 397.1L1954.5 395.9L1955.5 394.7L1956.5 393.4L1956.8 393.0L1957.5 392.1L1958.5 390.7L1959.5 389.3L1960.5 387.9L1961.5 386.4L1962.5 384.8L1963.5 383.0L1963.8 382.4L1964.5 381.0L1965.5 378.6L1966.5 375.9L1967.5 373.0L1968.5 370.0L1969.0 368.5L1969.5 366.9L1970.5 363.8L1971.5 360.5L1972.5 357.1L1973.5 353.8L1974.3 351.1L1974.5 350.4L1975.5 347.0L1976.5 343.6L1977.5 340.3L1978.5 337.5L1978.6 337.3L1979.5 335.2L1980.5 333.2L1981.5 331.6L1982.5 330.3L1983.4 329.4L1983.5 329.4L1984.5 329.2L1985.5 329.9L1986.5 331.3L1987.5 333.1L1987.8 333.9L1988.5 336.5L1989.5 342.5L1990.5 350.4L1991.5 360.6L1992.4 372.8L1992.5 374.4L1993.5 391.8L1994.3 406.5L1994.5 410.0L1995.5 427.0L1996.5 443.8L1996.9 450.7L1997.5 461.3L1998.5 479.5L1999.3 493.9L1999.5 497.5L2000.5 515.1L2001.5 533.7L2001.6 535.7L2002.5 554.5L2003.2 568.7L2003.5 574.0L2004.2 582.2L2004.5 583.6L2005.5 579.5L2006.5 566.9L2006.8 561.9L2007.5 548.5L2008.5 525.9L2008.6 523.5L2009.5 501.9L2010.4 480.3L2010.5 478.0L2011.5 454.8L2012.0 442.9L2012.5 430.7L2013.5 408.7L2013.6 407.0L2014.5 394.5L2015.5 385.1L2016.5 379.3L2016.8 378.2L2017.5 376.2L2018.5 374.0L2019.5 372.0L2020.5 370.4L2020.7 370.2L2021.5 369.1L2022.5 368.1L2023.5 367.0L2024.5 366.0L2025.5 365.0L2026.5 363.7L2027.5 362.2L2028.5 360.5L2029.5 358.4L2030.5 356.1L2031.5 353.6L2032.5 351.0L2033.3 348.8L2033.5 348.2L2034.5 345.1L2035.5 341.8L2036.5 338.4L2037.5 335.2L2038.1 333.4L2038.5 332.2L2039.5 329.4L2040.5 326.7L2041.5 324.1L2042.5 321.5L2043.5 318.9L2043.9 317.8L2044.5 316.2L2045.5 313.6L2046.5 311.0L2047.5 308.3L2048.5 305.6L2049.5 302.8L2049.7 302.2L2050.5 299.8L2051.5 296.5L2052.5 293.2L2053.5 290.0L2054.5 287.1L2054.6 286.9L2055.5 284.6L2056.5 282.3L2057.5 280.5L2058.5 279.2L2059.5 278.4L2060.5 278.0L2061.5 277.9L2062.3 278.2L2062.5 278.3L2063.5 279.2L2064.5 280.4L2065.5 281.9L2066.5 283.6L2067.2 284.9L2067.5 285.5L2068.5 287.7L2069.5 290.1L2070.5 292.7L2071.5 295.2L2072.0 296.5L2072.5 297.8L2073.5 300.5L2074.5 303.1L2075.5 305.4L2075.9 306.1L2076.5 307.1L2077.5 308.4L2078.5 309.4L2079.5 309.9L2079.8 309.9L2080.5 309.8L2081.5 309.3L2082.5 308.4L2083.5 307.1L2083.6 307.0L2084.5 305.4L2085.5 303.2L2086.5 300.7L2087.5 298.4L2088.5 296.6L2089.5 295.3L2090.5 294.4L2091.5 293.8L2092.3 293.7L2092.5 293.7L2093.5 294.1L2094.5 295.0L2095.5 296.1L2096.5 297.4L2097.2 298.4L2097.5 298.9L2098.5 300.7L2099.5 302.8L2100.5 305.2L2101.5 307.9L2102.5 310.6L2103.0 312.0L2103.5 313.5L2104.5 316.7L2105.5 320.2L2106.5 323.7L2107.5 327.2L2108.5 330.4L2108.8 331.3L2109.5 333.3L2110.5 336.0L2111.5 338.5L2112.5 340.9L2113.5 343.4L2114.5 345.9L2115.5 348.6L2115.6 348.8L2116.5 351.4L2117.5 354.4L2118.5 357.6L2119.5 361.0L2120.4 364.4L2120.5 364.8L2121.5 369.4L2122.5 374.7L2123.5 380.6L2124.3 385.7L2124.5 387.0L2125.5 394.1L2126.5 401.6L2127.5 409.3L2128.2 414.6L2128.5 416.9L2129.5 424.3L2130.5 431.7L2131.5 439.2L2132.1 443.8L2132.5 446.9L2133.5 455.1L2134.5 463.5L2135.5 471.7L2136.5 479.4L2136.9 482.3L2137.5 486.4L2138.5 492.9L2139.5 499.0L2140.5 504.8L2141.5 510.4L2141.7 511.5L2142.5 515.8L2143.5 521.0L2144.5 525.9L2145.5 530.4L2145.6 530.9L2146.5 534.8L2147.5 539.0L2148.5 542.2L2149.5 543.7L2150.5 543.2L2151.5 541.1L2152.5 537.9L2153.5 534.1L2154.3 530.8L2154.5 530.0L2155.5 525.3L2156.5 520.1L2157.5 514.9L2158.2 511.6L2158.5 510.3L2159.5 506.0L2160.5 502.0L2161.5 498.0L2162.5 494.1L2163.0 492.1L2163.5 490.1L2164.5 486.1L2165.5 482.2L2166.5 478.2L2167.5 474.3L2167.9 472.8L2168.5 470.4L2169.5 466.3L2170.5 462.2L2171.5 458.3L2172.5 454.9L2173.5 452.1L2173.7 451.6L2174.5 449.8L2175.5 447.9L2176.5 446.4L2177.5 445.6L2178.5 445.7L2179.5 446.6L2180.5 447.7L2181.5 449.1L2182.5 450.4L2183.4 451.5L2183.5 451.6L2184.5 452.7L2185.5 453.9L2186.5 454.9L2187.5 455.9L2188.5 456.8L2189.2 457.2L2189.5 457.3L2190.5 457.0L2191.5 456.0L2192.5 454.4L2193.5 452.5L2194.0 451.3L2194.5 450.0L2195.5 446.3L2196.5 441.5L2197.5 436.2L2197.9 433.9L2198.5 430.5L2199.5 424.3L2200.5 417.6L2201.5 410.8L2201.8 408.8L2202.5 404.1L2203.5 397.4L2204.5 390.4L2205.5 383.1L2205.7 381.6L2206.5 375.1L2207.5 366.5L2208.5 357.3L2208.6 356.3L2209.5 347.2L2210.5 336.9L2211.5 327.8L2212.5 320.2L2213.5 313.7L2214.5 308.9L2215.3 306.5L2215.5 306.1L2216.5 304.7L2217.5 303.6L2218.5 302.8L2219.5 302.0L2220.5 301.2L2221.5 300.1L2222.1 299.4L2222.5 298.8L2223.5 297.3L2224.5 295.7L2225.5 294.1L2226.5 292.6L2227.5 291.2L2227.9 290.7L2228.5 290.0L2229.5 288.9L2230.5 288.0L2231.5 287.2L2232.5 286.9L2232.8 286.9L2233.5 287.2L2234.5 288.1L2235.5 289.1L2236.5 289.6L2236.7 289.6L2237.5 289.4L2238.5 288.8L2239.5 287.9L2240.5 286.9L2241.5 285.9L2242.5 284.9L2243.5 283.9L2244.5 282.7L2245.5 281.6L2246.5 280.5L2247.5 279.7L2248.3 279.1L2248.5 279.0L2249.5 278.6L2250.5 278.3L2251.5 278.0L2252.5 277.8L2253.5 277.7L2254.5 277.6L2255.1 277.5L2255.5 277.5L2256.5 277.6L2257.5 277.9L2258.5 278.3L2259.5 278.9L2259.9 279.3L2260.5 280.2L2261.5 283.0L2262.5 287.0L2263.5 291.3L2263.8 292.6L2264.5 295.7L2265.5 300.3L2266.5 305.2L2267.5 310.2L2268.5 315.4L2268.6 315.9L2269.5 320.6L2270.5 325.9L2271.5 331.4L2272.5 337.1L2273.5 343.1L2274.5 349.5L2275.5 356.4L2276.5 363.7L2277.5 371.4L2278.3 377.9L2278.5 379.6L2279.5 388.5L2280.5 398.0L2281.5 407.8L2282.2 414.7L2282.5 417.7L2283.5 428.0L2284.5 438.3L2285.5 448.4L2286.0 453.3L2286.5 458.0L2287.5 467.2L2288.5 476.1L2289.5 484.8L2289.9 488.3L2290.5 493.6L2291.5 502.4L2292.5 510.9L2293.5 518.9L2293.8 521.1L2294.5 526.3L2295.5 533.4L2296.5 539.3L2297.5 542.7L2297.7 543.0L2298.5 543.0L2299.5 540.6L2300.5 536.3L2301.5 530.9L2302.5 525.0L2303.5 518.3L2304.5 510.4L2305.5 501.1L2306.4 491.7L2306.5 490.6L2307.5 478.3L2308.5 464.6L2309.3 453.5L2309.5 450.8L2310.5 437.4L2311.5 424.0L2312.2 414.6L2312.5 410.5L2313.5 396.5L2314.5 383.3L2315.1 376.3L2315.5 371.9L2316.5 361.9L2317.5 353.2L2318.5 346.1L2319.0 343.2L2319.5 340.7L2320.5 336.0L2321.5 331.7L2322.5 327.8L2323.5 324.1L2324.5 320.7L2324.8 319.7L2325.5 317.5L2326.5 314.3L2327.5 311.2L2328.5 308.2L2329.5 305.3L2330.5 302.6L2330.6 302.3L2331.5 299.9L2332.5 297.2L2333.5 294.6L2334.5 292.4L2335.4 290.8L2335.5 290.6L2336.5 289.4L2337.5 288.5L2338.5 288.1L2339.3 287.9L2339.5 287.9L2340.5 288.6L2341.5 290.1L2342.5 292.6L2343.2 295.2L2343.5 296.7L2344.5 303.7L2345.5 312.6L2346.1 317.6L2346.5 320.7L2347.5 328.0L2348.5 334.3L2349.0 336.9L2349.5 339.2L2350.5 343.1L2351.5 346.0L2352.5 347.6"/>
<path stroke="#66cc99" d="M202.5 749.1L203.5 749.0L204.5 748.9L205.5 748.7L206.5 748.6L207.5 748.5L208.5 748.4L209.5 748.2L210.5 748.1L211.5 748.0L212.5 747.8L213.5 747.7L214.5 747.6L215.0 747.5L215.5 747.4L216.5 747.3L217.5 747.1L218.5 746.9L219.5 746.7L220.5 746.6L221.5 746.4L222.5 746.3L223.5 746.2L224.2 746.2L224.5 746.2L225.5 746.2L226.5 746.2L227.5 746.2L228.5 746.2L229.5 746.1L230.5 746.1L231.5 746.1L232.5 746.1L233.5 746.1L234.5 746.1L235.5 746.1L236.5 746.1L237.5 746.1L238.5 746.1L239.5 746.1L240.5 746.0L241.5 746.0L242.5 746.0L243.5 746.0L244.5 746.0L245.5 746.0L246.5 746.0L247.5 746.0L248.5 746.0L249.5 746.0L250.5 746.0L251.5 746.0L252.5 746.0L253.5 746.0L254.5 746.0L255.5 746.0L256.5 746.0L257.5 746.0L258.5 745.9L259.5 745.9L260.5 745.9L261.5 745.9L262.5 745.9L263.5 745.9L264.5 745.9L265.5 745.9L266.5 745.9L267.5 745.9L268.5 745.9L269.5 745.9L270.5 745.9L271.5 745.9L272.5 745.9L273.5 745.9L274.5 745.9L275.5 745.9L276.5 745.9L277.5 745.9L278.5 745.9L279.5 745.9L280.5 745.9L281.5 745.9L282.5 745.9L283.5 745.9L284.5 745.9L285.5 745.9L286.5 745.9L287.5 745.9L288.5 745.9L289.5 745.9L290.5 745.9L291.5 745.9L292.5 745.9L293.5 745.9L294.5 745.9L295.5 745.9L296.5 745.9L296.9 745.9L297.5 745.9L298.5 745.9L299.5 745.9L300.5 745.9L301.5 745.9L302.5 745.9L303.5 745.9L304.5 745.9L305.5 745.9L306.5 745.9L307.5 745.9L308.5 745.9L309.5 745.9L310.5 745.9L311.5 745.9L312.5 745.9L313.5 745.9L314.5 746.0L315.5 746.0L316.5 746.0L317.5 746.0L318.5 746.0L319.5 746.0L320.5 746.0L321.5 746.0L322.5 746.0L323.5 746.0L324.5 746.0L325.5 746.0L326.5 746.0L327.5 746.0L328.5 746.0L329.5 746.0L330.5 746.0L331.5 746.0L332.5 746.1L333.5 746.1L334.5 746.1L335.5 746.1L336.5 746.1L337.5 746.1L338.5 746.1L339.5 746.1L340.5 746.1L341.5 746.1L342.5 746.1L343.5 746.1L344.5 746.1L345.5 746.1L346.5 746.1L347.5 746.1L348.5 746.1L349.5 746.1L350.5 746.2L351.5 746.2L352.5 746.2L353.5 746.2L354.5 746.2L355.5 746.2L356.5 746.2L357.5 746.2L358.5 746.2L359.5 746.2L360.5 746.2L361.5 746.2L362.5 746.2L363.5 746.2L364.5 746.2L365.5 746.2L366.5 746.2L367.5 746.2L368.5 746.2L369.5 746.2L370.5 746.2L371.5 746.2L372.5 746.1L373.5 746.0L374.5 745.9L375.5 745.9L376.5 745.7L377.5 745.6L378.5 745.5L379.5 745.4L380.5 745.2L381.5 745.1L382.5 745.0L383.5 744.8L384.5 744.7L385.5 744.6L386.5 744.4L387.5 744.3L388.5 744.2L388.9 744.2L389.5 744.2L390.5 744.1L391.5 744.1L392.5 744.1L393.5 744.1L394.5 744.1L395.5 744.2L396.5 744.2L397.5 744.3L398.5 744.4L399.5 744.5L400.5 744.7L401.5 744.8L402.5 744.9L403.5 745.1L404.5 745.3L405.5 745.4L406.5 745.6L407.5 745.8L408.5 746.0L409.5 746.2L410.5 746.5L410.7 746.6L411.5 746.9L412.5 747.5L413.5 748.3L414.5 749.2L415.5 750.4L416.5 751.6L417.5 753.0L418.5 754.5L419.5 756.1L420.3 757.4L420.5 757.7L421.5 759.6L422.5 761.8L423.5 764.2L424.5 766.7L425.5 769.4L426.5 772.3L427.5 775.2L428.5 778.3L428.8 779.3L429.5 781.5L430.5 784.9L431.5 788.3L432.5 791.9L433.5 795.6L434.5 799.4L435.5 803.3L436.5 807.2L437.3 810.4L437.5 811.2L438.5 815.3L439.5 819.4L440.5 823.6L441.5 827.7L442.5 831.9L443.5 836.0L444.5 840.2L444.6 840.6L445.5 844.3L446.5 848.4L447.5 852.5L448.5 856.6L449.5 860.6L450.5 864.6L451.5 868.5L451.8 869.7L452.5 872.4L453.5 876.3L454.5 880.1L455.5 883.9L456.5 887.6L457.5 891.4L458.5 895.0L459.5 898.6L460.5 902.2L461.5 905.7L462.5 909.2L463.5 912.6L464.5 916.0L465.5 919.3L466.5 922.6L467.5 925.9L468.5 929.1L469.5 932.3L470.5 935.5L471.2 937.7L471.5 938.6L472.5 941.7L473.5 944.8L474.5 947.8L475.5 950.8L476.5 953.7L477.5 956.6L478.5 959.4L479.5 962.2L480.5 964.8L480.9 965.9L481.5 967.4L482.5 970.0L483.5 972.4L484.5 974.8L485.5 977.2L486.5 979.5L487.5 981.7L488.5 983.9L489.5 986.1L490.5 988.2L491.5 990.3L492.5 992.4L493.0 993.5L493.5 994.5L494.5 996.6L495.5 998.6L496.5 1000.7L497.5 1002.7L498.5 1004.7L499.5 1006.7L500.5 1008.7L501.5 1010.7L502.5 1012.7L503.5 1014.7L504.5 1016.7L505.5 1018.7L506.5 1020.7L507.5 1022.7L508.5 1024.7L509.5 1026.7L510.5 1028.7L511.5 1030.7L512.5 1032.7L513.5 1034.7L514.5 1036.7L515.5 1038.7L516.5 1040.6L517.5 1042.6L518.5 1044.6L519.5 1046.6L520.5 1048.6L521.5 1050.6L522.5 1052.6L523.5 1054.6L524.5 1056.6L525.5 1058.6L526.5 1060.7L527.5 1062.7L528.5 1064.7L529.5 1066.7L530.5 1068.7L531.5 1070.7L532.5 1072.7L533.5 1074.7L534.5 1076.8L535.5 1078.8L536.5 1080.8L537.5 1082.8L538.5 1084.7L539.5 1086.7L540.5 1088.7L541.5 1090.7L542.5 1092.6L543.5 1094.6L543.8 1095.1L544.5 1096.5L545.5 1098.4L546.5 1100.3L547.5 1102.2L548.5 1104.1L549.5 1106.0L550.5 1107.9L551.5 1109.7L552.5 1111.6L553.5 1113.5L554.5 1115.3L555.5 1117.2L556.5 1119.1L557.5 1120.9L558.5 1122.8L559.5 1124.7L560.5 1126.6L561.5 1128.5L562.5 1130.5L563.2 1131.8L563.5 1132.4L564.5 1134.4L565.5 1136.3L566.5 1138.3L567.5 1140.3L568.5 1142.2L569.5 1144.2L570.5 1146.1L571.5 1148.1L572.5 1150.0L573.5 1151.9L574.1 1153.0L574.5 1153.7L575.5 1155.6L576.5 1157.4L577.5 1159.2L578.5 1160.9L579.5 1162.6L580.5 1164.3L581.5 1166.0L582.5 1167.6L583.5 1169.2L584.5 1170.7L584.7 1171.0L585.5 1172.3L586.5 1173.8L587.5 1175.2L588.5 1176.7L589.5 1178.1L590.5 1179.5L591.5 1180.8L592.5 1182.2L593.5 1183.5L594.5 1184.7L595.5 1186.0L596.5 1187.2L597.5 1188.4L598.5 1189.5L599.3 1190.5L599.5 1190.7L600.5 1191.8L601.5 1192.8L602.5 1193.8L603.5 1194.8L604.5 1195.8L605.5 1196.7L606.5 1197.5L607.5 1198.4L608.5 1199.1L609.5 1199.9L610.5 1200.5L611.4 1201.1L611.5 1201.2L612.5 1201.7L613.5 1202.3L614.5 1202.8L615.5 1203.2L616.5 1203.6L617.5 1204.0L618.5 1204.3L619.5 1204.6L620.5 1204.8L621.5 1205.0L622.5 1205.1L623.5 1205.2L624.5 1205.3L625.5 1205.3L626.5 1205.3L627.5 1205.3L628.5 1205.2L629.5 1205.1L630.5 1204.9L631.5 1204.8L632.5 1204.6L633.5 1204.3L634.5 1204.1L635.5 1203.8L635.6 1203.8L636.5 1203.5L637.5 1203.2L638.5 1202.8L639.5 1202.5L640.5 1202.1L641.5 1201.7L642.5 1201.3L643.5 1200.9L644.5 1200.5L645.5 1200.0L646.5 1199.6L647.5 1199.1L648.5 1198.7L649.5 1198.2L650.1 1198.0L650.5 1197.8L651.5 1197.3L652.5 1196.9L653.5 1196.4L654.5 1196.0L655.5 1195.6L656.5 1195.1L657.5 1194.7L658.5 1194.3L659.5 1193.9L660.5 1193.6L661.5 1193.2L662.5 1192.9L663.5 1192.6L664.5 1192.4L664.6 1192.4L665.5 1192.1L666.5 1191.9L667.5 1191.7L668.5 1191.6L669.5 1191.4L670.5 1191.3L671.5 1191.2L672.5 1191.1L673.5 1191.1L674.5 1191.0L675.5 1191.0L676.5 1191.0L677.5 1191.0L678.5 1191.0L679.2 1191.0L679.5 1191.0L680.5 1191.1L681.5 1191.2L682.5 1191.2L683.5 1191.3L684.5 1191.4L685.5 1191.5L686.5 1191.6L687.5 1191.7L688.5 1191.8L689.5 1191.9L690.5 1192.0L691.5 1192.1L692.5 1192.1L693.5 1192.2L693.7 1192.2L694.5 1192.2L695.5 1192.1L696.5 1192.1L697.5 1192.0L698.5 1191.9L699.5 1191.8L700.5 1191.6L701.5 1191.5L702.5 1191.2L703.5 1191.0L704.5 1190.7L705.5 1190.4L705.8 1190.3L706.5 1190.0L707.5 1189.6L708.5 1189.2L709.5 1188.7L710.5 1188.2L711.5 1187.6L712.5 1187.0L713.5 1186.4L714.5 1185.7L715.5 1185.0L716.5 1184.2L717.5 1183.5L717.9 1183.1L718.5 1182.6L719.5 1181.8L720.5 1180.9L721.5 1180.0L722.5 1179.1L723.5 1178.1L724.5 1177.1L725.5 1176.1L726.5 1175.0L727.5 1173.9L728.5 1172.8L729.5 1171.6L730.0 1171.0L730.5 1170.4L731.5 1169.2L732.5 1167.9L733.5 1166.6L734.5 1165.3L735.5 1163.9L736.5 1162.5L737.5 1161.1L738.5 1159.6L739.5 1158.1L740.5 1156.6L741.5 1155.0L742.1 1154.1L742.5 1153.4L743.5 1151.8L744.5 1150.1L745.5 1148.4L746.5 1146.7L747.5 1144.9L748.5 1143.1L749.5 1141.3L750.5 1139.5L751.5 1137.6L752.5 1135.8L753.5 1133.9L754.2 1132.6L754.5 1132.0L755.5 1130.1L756.5 1128.1L757.5 1126.2L758.5 1124.2L759.5 1122.2L760.5 1120.2L761.5 1118.2L762.5 1116.1L763.5 1114.0L764.5 1111.9L765.5 1109.8L766.3 1108.0L766.5 1107.6L767.5 1105.4L768.5 1103.2L769.5 1100.9L770.5 1098.6L771.5 1096.2L772.5 1093.9L773.5 1091.5L774.5 1089.0L775.5 1086.6L776.5 1084.1L777.5 1081.6L778.5 1079.1L779.5 1076.6L780.5 1074.1L781.5 1071.5L782.5 1068.9L783.5 1066.4L784.5 1063.8L785.5 1061.2L786.5 1058.7L787.5 1056.1L788.5 1053.6L789.5 1051.1L790.5 1048.6L790.6 1048.3L791.5 1046.1L792.5 1043.7L793.5 1041.3L794.5 1038.9L795.5 1036.5L796.5 1034.1L797.5 1031.8L798.5 1029.4L799.5 1027.1L800.5 1024.7L801.5 1022.3L802.5 1019.9L803.5 1017.5L804.5 1015.1L805.1 1013.6L805.5 1012.7L806.5 1010.2L807.5 1007.7L808.5 1005.2L809.5 1002.7L810.5 1000.2L811.5 997.6L812.5 995.1L813.5 992.5L814.5 989.9L815.5 987.4L816.5 984.9L817.5 982.3L818.5 979.8L819.4 977.5L819.5 977.3L820.5 974.8L821.5 972.3L822.5 969.8L823.5 967.4L824.5 964.9L825.5 962.5L826.5 960.0L827.5 957.6L828.5 955.1L829.5 952.6L830.5 950.1L831.5 947.7L832.5 945.1L833.5 942.6L834.1 941.1L834.5 940.1L835.5 937.5L836.5 934.9L837.5 932.3L838.5 929.7L839.5 927.1L840.5 924.4L841.5 921.8L842.5 919.1L843.5 916.5L844.5 913.8L845.5 911.1L846.5 908.5L847.5 905.8L848.5 903.2L848.7 902.6L849.5 900.5L850.5 897.9L851.5 895.3L852.5 892.7L853.5 890.2L854.5 887.7L855.5 885.3L856.5 882.9L857.5 880.6L858.1 879.2L858.5 878.3L859.5 876.1L860.5 874.0L861.5 871.9L862.5 869.9L863.5 867.9L864.5 866.0L865.5 864.1L866.5 862.3L867.5 860.5L868.5 858.7L869.5 856.9L870.5 855.2L871.5 853.5L871.7 853.2L872.5 851.8L873.5 850.1L874.5 848.5L875.5 846.9L876.5 845.3L877.5 843.8L878.5 842.3L879.5 840.8L880.5 839.4L881.4 838.1L881.5 838.0L882.5 836.7L883.5 835.4L884.5 834.1L885.5 832.9L886.5 831.7L887.5 830.5L888.5 829.4L889.5 828.2L890.5 827.1L891.5 826.0L892.5 824.9L893.5 823.8L894.5 822.7L895.5 821.6L896.5 820.5L896.9 820.0L897.5 819.4L898.5 818.2L899.5 817.1L900.5 816.0L901.5 814.9L902.5 813.8L903.5 812.6L904.5 811.5L905.5 810.4L906.5 809.3L907.5 808.1L908.5 807.0L909.5 805.9L910.5 804.7L911.5 803.6L912.3 802.7L912.5 802.4L913.5 801.3L914.5 800.1L915.5 799.0L916.5 797.9L917.5 796.7L918.5 795.6L919.5 794.4L920.5 793.3L921.5 792.2L922.5 791.1L923.5 790.0L924.5 788.9L925.5 787.8L925.9 787.4L926.5 786.7L927.5 785.7L928.5 784.6L929.5 783.6L930.5 782.5L931.5 781.5L932.5 780.5L933.5 779.5L934.5 778.5L935.5 777.5L936.5 776.6L937.5 775.6L938.5 774.7L939.5 773.7L940.5 772.8L941.5 771.9L942.5 771.1L943.5 770.2L944.5 769.4L945.5 768.7L945.9 768.4L946.5 767.9L947.5 767.2L948.5 766.6L949.5 765.9L950.5 765.3L951.5 764.7L952.5 764.2L953.5 763.6L954.5 763.1L955.5 762.6L956.5 762.2L957.5 761.7L958.5 761.2L958.8 761.1L959.5 760.8L960.5 760.4L961.5 760.0L962.5 759.5L963.5 759.1L964.5 758.7L965.5 758.4L966.5 758.0L967.5 757.6L968.5 757.2L969.5 756.9L970.5 756.5L971.5 756.2L972.5 755.9L973.5 755.6L974.3 755.3L974.5 755.3L975.5 754.9L976.5 754.7L977.5 754.4L978.5 754.1L979.5 753.8L980.5 753.6L981.5 753.3L982.5 753.0L983.5 752.8L984.5 752.5L985.5 752.3L986.5 752.0L987.5 751.8L988.5 751.6L989.5 751.3L990.5 751.1L991.5 750.9L992.5 750.7L993.5 750.5L993.7 750.4L994.5 750.2L995.5 750.0L996.5 749.8L997.5 749.6L998.5 749.4L999.5 749.2L1000.5 749.0L1001.5 748.8L1002.5 748.6L1003.5 748.4L1004.5 748.2L1005.5 748.0L1006.5 747.9L1007.5 747.7L1008.5 747.6L1009.5 747.4L1010.5 747.3L1011.5 747.2L1012.5 747.1L1013.1 747.0L1013.5 747.0L1014.5 746.9L1015.5 746.8L1016.5 746.7L1017.5 746.7L1018.5 746.6L1019.5 746.5L1020.5 746.5L1021.5 746.4L1022.5 746.4L1023.5 746.3L1024.5 746.3L1025.5 746.3L1026.5 746.2L1027.5 746.2L1028.5 746.2L1029.5 746.2L1030.5 746.2L1031.5 746.1L1032.4 746.1L1032.5 746.1L1033.5 746.1L1034.5 746.1L1035.5 746.1L1036.5 746.1L1037.5 746.1L1038.5 746.1L1039.5 746.1L1040.5 746.1L1041.5 746.1L1042.5 746.1L1043.5 746.1L1044.5 746.1L1045.5 746.1L1046.5 746.1L1047.5 746.1L1048.5 746.1L1049.5 746.1L1050.5 746.1L1051.5 746.1L1052.5 746.1L1053.5 746.1L1054.5 746.1L1055.5 746.1L1056.5 746.1L1057.5 746.2L1058.5 746.2L1059.5 746.2L1060.5 746.2L1061.5 746.2L1062.5 746.2L1063.5 746.2L1064.5 746.2L1065.5 746.2L1066.5 746.2L1067.5 746.2L1068.5 746.2L1069.5 746.2L1070.5 746.2L1071.5 746.2L1072.5 746.2L1073.5 746.2L1074.5 746.2L1075.5 746.2L1076.5 746.2L1077.5 746.2L1078.5 746.2L1079.5 746.2L1080.5 746.2L1081.5 746.2L1082.5 746.2L1083.5 746.2L1084.5 746.2L1085.5 746.2L1086.5 746.2L1087.5 746.2L1088.5 746.2L1089.5 746.2L1090.5 746.2L1091.5 746.2L1092.5 746.2L1093.5 746.2L1094.5 746.2L1095.5 746.3L1096.5 746.3L1097.5 746.3L1098.5 746.3L1099.5 746.3L1100.5 746.3L1101.5 746.3L1102.5 746.3L1103.5 746.3L1104.5 746.3L1105.5 746.3L1106.5 746.3L1107.5 746.3L1108.5 746.3L1109.5 746.3L1110.5 746.3L1111.5 746.3L1112.5 746.3L1113.5 746.3L1114.5 746.3L1115.5 746.3L1116.5 746.3L1117.5 746.3L1118.5 746.3L1119.5 746.3L1120.5 746.3L1121.5 746.3L1122.5 746.3L1123.5 746.3L1124.5 746.3L1125.5 746.3L1126.5 746.3L1127.5 746.3L1128.5 746.3L1129.5 746.3L1130.5 746.3L1131.5 746.4L1132.5 746.4L1133.5 746.4L1134.5 746.4L1135.5 746.4L1136.5 746.4L1137.5 746.4L1138.5 746.4L1139.5 746.4L1140.5 746.4L1141.5 746.4L1142.5 746.4L1143.5 746.4L1144.5 746.4L1145.5 746.4L1146.5 746.4L1147.5 746.4L1148.5 746.4L1149.5 746.4L1150.5 746.4L1151.5 746.4L1152.5 746.4L1153.5 746.4L1154.5 746.4L1155.5 746.4L1156.5 746.4L1157.5 746.4L1158.5 746.4L1159.5 746.4L1160.5 746.4L1161.5 746.4L1162.5 746.4L1163.5 746.4L1164.5 746.4L1165.5 746.4L1166.5 746.4L1167.5 746.4L1168.5 746.4L1169.5 746.4L1170.5 746.4L1171.5 746.5L1172.5 746.5L1173.5 746.5L1174.5 746.5L1175.5 746.5L1176.5 746.5L1177.5 746.5L1178.5 746.5L1179.5 746.5L1180.5 746.5L1181.5 746.5L1182.5 746.5L1183.5 746.5L1184.5 746.5L1185.5 746.5L1186.5 746.5L1187.5 746.5L1188.5 746.5L1189.5 746.5L1190.5 746.5L1191.5 746.5L1192.5 746.5L1193.5 746.5L1194.5 746.5L1195.5 746.5L1196.5 746.5L1197.5 746.5L1198.5 746.5L1199.5 746.5L1200.0 746.5L1200.5 746.5L1201.5 746.5L1202.5 746.5L1203.5 746.5L1204.5 746.5L1205.5 746.5L1206.5 746.5L1207.5 746.5L1208.5 746.5L1209.5 746.5L1210.5 746.5L1211.5 746.5L1212.5 746.5L1213.5 746.5L1214.5 746.5L1215.5 746.5L1216.5 746.5L1217.5 746.5L1218.5 746.5L1219.5 746.5L1220.5 746.5L1221.5 746.5L1222.5 746.5L1223.5 746.5L1224.5 746.5L1225.5 746.5L1226.5 746.5L1227.5 746.5L1228.5 746.5L1229.5 746.5L1230.5 746.5L1231.5 746.5L1232.5 746.5L1233.5 746.5L1234.5 746.5L1235.5 746.5L1236.5 746.5L1237.5 746.5L1238.5 746.5L1239.5 746.5L1240.5 746.5L1241.5 746.5L1242.5 746.5L1243.5 746.5L1244.5 746.5L1245.5 746.5L1246.5 746.5L1247.5 746.5L1248.5 746.5L1249.5 746.5L1250.5 746.5L1251.5 746.5L1252.5 746.5L1253.5 746.5L1254.5 746.5L1255.5 746.5L1256.5 746.5L1257.5 746.5L1258.5 746.5L1259.5 746.5L1260.5 746.5L1261.5 746.5L1262.5 746.5L1263.5 746.5L1264.5 746.5L1265.5 746.5L1266.5 746.5L1267.5 746.5L1268.5 746.5L1269.5 746.5L1270.5 746.5L1271.5 746.5L1272.5 746.5L1273.5 746.5L1274.5 746.5L1275.5 746.5L1276.5 746.5L1277.5 746.5L1278.5 746.5L1279.5 746.5L1280.5 746.5L1281.5 746.5L1282.5 746.5L1283.5 746.5L1284.5 746.5L1285.5 746.5L1286.5 746.5L1287.5 746.5L1288.5 746.5L1289.5 746.5L1290.5 746.5L1291.5 746.5L1292.5 746.5L1293.5 746.5L1294.5 746.5L1295.5 746.5L1296.5 746.5L1297.5 746.5L1298.5 746.5L1299.5 746.5L1300.5 746.5L1301.5 746.5L1302.5 746.5L1303.5 746.5L1304.5 746.5L1305.5 746.5L1306.5 746.5L1307.5 746.5L1308.5 746.5L1309.5 746.5L1310.5 746.5L1311.5 746.5L1312.5 746.5L1313.5 746.5L1314.5 746.5L1315.5 746.5L1316.5 746.5L1317.5 746.5L1318.5 746.5L1319.5 746.5L1320.5 746.5L1321.5 746.5L1322.5 746.5L1323.5 746.5L1324.5 746.5L1325.5 746.5L1326.5 746.5L1327.5 746.5L1328.5 746.5L1329.5 746.5L1330.5 746.5L1331.5 746.5L1332.5 746.5L1333.5 746.5L1334.5 746.5L1335.5 746.5L1336.5 746.5L1337.5 746.5L1338.5 746.5L1339.5 746.5L1340.5 746.5L1341.5 746.5L1342.5 746.5L1343.5 746.5L1344.5 746.5L1345.5 746.5L1346.5 746.5L1347.5 746.5L1348.5 746.5L1349.5 746.5L1350.5 746.5L1351.5 746.5L1352.5 746.5L1353.5 746.5L1354.5 746.5L1355.5 746.5L1356.5 746.5L1357.5 746.5L1358.5 746.5L1359.5 746.5L1360.5 746.5L1361.5 746.5L1362.5 746.5L1363.5 746.5L1364.5 746.5L1365.5 746.5L1366.5 746.5L1367.5 746.5L1368.5 746.5L1369.5 746.5L1370.5 746.5L1371.5 746.5L1372.5 746.5L1373.5 746.5L1374.5 746.5L1375.5 746.5L1376.5 746.5L1377.5 746.5L1378.5 746.5L1379.5 746.5L1380.5 746.5L1381.5 746.5L1382.5 746.5L1383.5 746.5L1384.5 746.5L1385.5 746.5L1386.5 746.5L1387.5 746.5L1388.5 746.5L1389.5 746.5L1390.5 746.5L1391.5 746.5L1392.5 746.5L1393.5 746.5L1394.5 746.5L1395.5 746.5L1396.5 746.5L1397.5 746.5L1398.5 746.5L1399.5 746.5L1400.0 746.5L1400.5 746.5L1401.5 746.5L1402.5 746.5L1403.5 746.6L1404.5 746.6L1405.5 746.7L1406.5 746.7L1407.5 746.8L1408.5 746.9L1409.5 747.0L1410.0 747.0L1410.5 747.1L1411.5 747.5L1412.5 748.1L1413.5 748.7L1414.5 749.3L1415.5 749.8L1416.5 749.9L1417.5 749.7L1418.5 749.0L1419.5 748.2L1420.5 747.5L1421.5 747.0L1422.0 746.8L1422.5 746.8L1423.5 746.8L1424.5 746.7L1425.5 746.7L1426.5 746.7L1427.5 746.7L1428.5 746.6L1429.5 746.6L1430.5 746.6L1431.5 746.6L1432.5 746.6L1433.5 746.5L1434.5 746.5L1435.5 746.5L1436.5 746.5L1437.5 746.5L1438.5 746.5L1439.5 746.4L1440.5 746.4L1441.5 746.4L1442.5 746.4L1443.5 746.4L1444.5 746.4L1445.5 746.4L1446.5 746.4L1447.5 746.4L1448.5 746.4L1449.5 746.4L1450.5 746.4L1451.5 746.4L1452.5 746.4L1453.5 746.3L1454.5 746.3L1455.5 746.3L1456.5 746.3L1457.5 746.4L1458.5 746.4L1459.5 746.4L1460.5 746.4L1461.5 746.4L1462.5 746.4L1463.5 746.4L1464.5 746.4L1465.5 746.4L1466.5 746.4L1467.5 746.4L1468.5 746.4L1469.5 746.4L1470.5 746.4L1471.5 746.4L1472.5 746.5L1473.5 746.5L1474.5 746.5L1475.5 746.5L1476.5 746.5L1477.5 746.5L1478.5 746.5L1479.5 746.6L1480.5 746.6L1481.5 746.6L1482.5 746.6L1483.5 746.6L1484.5 746.6L1485.5 746.7L1486.5 746.7L1487.5 746.7L1488.5 746.7L1489.5 746.7L1490.5 746.8L1491.5 746.8L1492.5 746.8L1493.5 746.8L1494.5 746.9L1495.5 746.9L1496.5 746.9L1497.5 746.9L1498.5 747.0L1499.5 747.0L1500.0 747.0L1500.5 747.0L1501.5 747.1L1502.5 747.1L1503.5 747.1L1504.5 747.2L1505.5 747.2L1506.5 747.3L1507.5 747.4L1508.5 747.4L1509.5 747.5L1510.5 747.5L1511.5 747.5L1512.5 747.6L1513.5 747.6L1514.0 747.6L1514.5 747.5L1515.5 747.1L1516.5 746.6L1517.5 746.1L1518.5 745.7L1519.0 745.7L1519.5 745.7L1520.5 745.8L1521.5 746.1L1522.5 746.5L1523.5 746.9L1524.5 747.2L1525.5 747.3L1526.0 747.4L1526.5 747.4L1527.5 747.4L1528.5 747.4L1529.5 747.4L1530.5 747.4L1531.5 747.4L1532.5 747.4L1533.5 747.4L1534.5 747.4L1535.5 747.4L1536.5 747.4L1537.5 747.4L1538.5 747.4L1539.5 747.4L1540.5 747.4L1541.5 747.4L1542.5 747.4L1543.5 747.4L1544.5 747.4L1545.5 747.4L1546.5 747.4L1547.5 747.4L1548.5 747.4L1549.5 747.4L1550.5 747.4L1551.5 747.4L1552.5 747.4L1553.5 747.4L1554.5 747.4L1555.5 747.4L1556.5 747.3L1557.5 747.3L1558.5 747.3L1559.5 747.3L1560.5 747.3L1561.5 747.3L1562.5 747.3L1563.5 747.3L1564.5 747.3L1565.5 747.3L1566.5 747.3L1567.5 747.3L1568.5 747.3L1569.5 747.3L1570.5 747.3L1571.5 747.3L1572.5 747.3L1573.5 747.3L1574.5 747.3L1575.5 747.3L1576.5 747.2L1577.5 747.2L1578.5 747.2L1579.5 747.2L1580.5 747.2L1581.5 747.2L1582.5 747.2L1583.5 747.2L1584.5 747.2L1585.5 747.2L1586.5 747.2L1587.5 747.2L1588.5 747.2L1589.5 747.2L1590.5 747.2L1591.5 747.2L1592.5 747.2L1593.5 747.3L1594.5 747.3L1595.5 747.3L1596.5 747.3L1597.5 747.3L1598.5 747.3L1599.5 747.3L1600.0 747.3L1600.5 747.3L1601.5 747.3L1602.5 747.3L1603.5 747.3L1604.5 747.3L1605.5 747.4L1606.5 747.4L1607.5 747.4L1608.5 747.4L1609.5 747.4L1610.5 747.4L1611.5 747.4L1612.5 747.4L1613.5 747.4L1614.5 747.5L1615.5 747.5L1616.5 747.5L1617.5 747.5L1618.5 747.5L1619.5 747.5L1620.5 747.5L1621.5 747.5L1622.5 747.6L1623.5 747.6L1624.5 747.6L1625.5 747.6L1626.5 747.6L1627.5 747.6L1628.5 747.6L1629.5 747.7L1630.5 747.7L1631.5 747.7L1632.5 747.7L1633.5 747.7L1634.5 747.7L1635.5 747.7L1636.5 747.7L1637.5 747.8L1638.5 747.8L1639.5 747.8L1640.5 747.8L1641.5 747.8L1642.5 747.8L1643.5 747.8L1644.5 747.8L1645.5 747.8L1646.5 747.9L1647.5 747.9L1648.5 747.9L1649.5 747.9L1650.0 747.9L1650.5 747.9L1651.5 747.9L1652.5 747.9L1653.5 747.9L1654.5 747.8L1655.5 747.8L1656.5 747.7L1657.5 747.6L1658.5 747.6L1659.5 747.5L1660.5 747.4L1661.5 747.3L1662.5 747.3L1663.5 747.2L1664.5 747.1L1665.5 747.0L1666.5 746.9L1667.5 746.9L1668.5 746.8L1669.5 746.8L1670.5 746.7L1670.9 746.7L1671.5 746.8L1672.5 746.9L1673.5 747.3L1674.5 747.9L1675.5 748.5L1676.5 749.3L1677.5 750.2L1678.5 751.2L1679.5 752.2L1679.6 752.4L1680.5 753.5L1681.5 755.2L1682.5 757.3L1683.5 759.6L1684.5 762.0L1685.5 764.5L1686.5 766.9L1686.6 767.1L1687.5 769.2L1688.5 771.7L1689.5 774.2L1690.5 776.8L1691.5 779.3L1692.5 781.8L1693.5 784.3L1693.6 784.5L1694.5 786.6L1695.5 789.0L1696.5 791.4L1697.5 793.7L1698.5 795.9L1699.5 798.0L1700.5 800.0L1700.6 800.2L1701.5 801.9L1702.5 803.6L1703.5 805.3L1704.5 807.0L1705.5 808.6L1706.5 810.1L1707.5 811.5L1708.5 812.8L1709.5 814.1L1710.5 815.3L1711.5 816.4L1712.5 817.5L1713.5 818.6L1714.5 819.8L1715.5 821.1L1716.2 822.0L1716.5 822.4L1717.5 824.0L1718.5 825.6L1719.5 827.4L1720.5 829.4L1721.5 831.5L1722.3 833.4L1722.5 833.9L1723.5 837.0L1724.5 840.7L1725.5 845.1L1726.5 849.9L1726.7 850.9L1727.5 855.3L1728.5 861.6L1729.5 868.5L1730.2 873.4L1730.5 875.6L1731.5 883.1L1732.5 891.1L1733.5 899.7L1733.7 901.5L1734.5 909.2L1735.5 919.5L1736.5 929.9L1736.9 934.3L1737.5 939.9L1738.5 949.5L1739.5 958.9L1740.5 968.4L1741.3 975.7L1741.5 978.1L1742.5 987.9L1743.5 997.9L1744.5 1008.0L1745.4 1016.9L1745.5 1018.1L1746.5 1028.4L1747.5 1038.8L1748.5 1049.3L1749.3 1058.2L1749.5 1059.9L1750.5 1070.6L1751.5 1081.3L1752.5 1092.1L1753.2 1099.5L1753.5 1103.0L1754.5 1113.9L1755.5 1124.9L1756.5 1135.9L1756.9 1140.8L1757.5 1147.0L1758.5 1158.1L1759.5 1169.2L1760.5 1180.4L1760.7 1182.1L1761.5 1192.2L1762.5 1204.2L1763.5 1215.2L1764.4 1222.5L1764.5 1223.5L1765.5 1228.9L1765.9 1230.9L1766.5 1234.3L1767.1 1237.6L1767.5 1239.6L1768.3 1242.7L1768.5 1243.4L1769.5 1245.7L1770.3 1246.3L1770.5 1246.3L1771.5 1244.9L1772.3 1242.7L1772.5 1242.1L1773.5 1237.7L1774.5 1231.4L1774.7 1229.8L1775.4 1223.8L1775.5 1223.1L1776.5 1215.7L1777.5 1209.8L1778.5 1204.1L1779.5 1197.6L1780.3 1190.7L1780.5 1189.1L1781.5 1178.0L1782.5 1165.3L1783.0 1159.3L1783.5 1152.1L1784.5 1138.8L1785.4 1127.8L1785.5 1126.8L1786.5 1116.5L1787.5 1107.5L1788.5 1099.4L1789.0 1095.5L1789.5 1092.4L1790.5 1085.8L1791.5 1079.7L1792.5 1073.8L1793.5 1068.3L1794.4 1063.5L1794.5 1063.0L1795.5 1058.1L1796.5 1053.2L1797.5 1048.5L1798.5 1043.9L1799.5 1039.4L1800.5 1034.9L1801.3 1031.5L1801.5 1030.5L1802.5 1026.1L1803.5 1021.8L1804.5 1017.6L1805.5 1013.4L1806.5 1009.2L1807.5 1004.7L1808.5 1000.1L1808.6 999.5L1809.5 995.2L1810.5 989.9L1811.5 984.4L1812.5 979.0L1813.5 973.6L1814.5 968.6L1814.7 967.7L1815.5 963.9L1816.5 959.4L1817.5 955.0L1818.5 950.8L1819.5 946.8L1820.5 942.9L1820.9 941.4L1821.5 939.3L1822.5 935.7L1823.5 932.3L1824.5 929.0L1825.5 925.8L1826.5 922.7L1827.5 919.6L1827.8 918.7L1828.5 916.6L1829.5 913.8L1830.5 910.9L1831.5 908.2L1832.5 905.4L1833.5 902.7L1834.5 899.9L1835.5 897.1L1836.5 894.3L1837.5 891.4L1838.5 888.6L1839.5 885.7L1840.5 882.8L1841.5 879.8L1842.5 876.7L1843.5 873.4L1844.5 869.8L1845.5 865.9L1846.5 861.9L1847.5 857.6L1848.5 853.3L1848.7 852.5L1849.5 848.9L1850.5 844.3L1851.5 839.6L1852.5 834.9L1853.5 830.3L1854.0 828.1L1854.5 825.9L1855.5 821.7L1856.5 817.5L1857.5 813.4L1858.5 809.7L1859.2 807.2L1859.5 806.2L1860.5 802.9L1861.5 799.8L1862.5 797.2L1863.5 795.3L1863.6 795.1L1864.5 793.9L1865.5 792.9L1866.5 792.1L1867.5 791.7L1867.9 791.6L1868.5 791.5L1869.5 791.8L1870.5 792.4L1871.5 793.3L1872.3 794.2L1872.5 794.5L1873.5 796.6L1874.5 799.6L1875.5 803.1L1876.5 806.9L1876.6 807.3L1877.5 811.1L1878.5 816.0L1879.5 820.7L1880.5 824.6L1881.0 826.1L1881.5 827.3L1882.5 829.2L1883.5 830.8L1884.5 832.1L1885.5 833.4L1886.2 834.2L1886.5 834.5L1887.5 835.5L1888.5 836.4L1889.5 837.2L1890.5 838.1L1891.5 839.2L1892.3 840.4L1892.5 840.8L1893.5 843.0L1894.5 845.8L1895.5 848.8L1896.5 851.7L1897.5 853.9L1897.6 854.1L1898.5 855.6L1899.5 857.2L1900.5 858.5L1901.5 859.8L1902.5 861.0L1903.5 862.0L1904.5 863.0L1905.5 863.8L1906.5 864.5L1907.5 865.2L1908.5 865.8L1909.5 866.5L1910.5 867.3L1911.5 868.2L1912.5 869.3L1913.5 870.5L1914.5 871.8L1915.5 873.1L1916.5 874.4L1917.5 875.7L1918.5 876.9L1919.5 878.0L1920.5 878.9L1921.5 879.8L1922.5 880.6L1923.5 881.5L1924.5 882.4L1925.5 883.5L1926.5 884.7L1927.2 885.7L1927.5 886.2L1928.5 888.1L1929.5 890.5L1930.5 893.1L1931.5 895.7L1932.4 897.8L1932.5 898.0L1933.5 900.2L1934.5 902.4L1935.5 904.5L1936.5 906.4L1937.5 908.0L1937.7 908.2L1938.5 909.2L1939.5 910.1L1940.5 910.7L1941.1 910.8L1941.5 910.8L1942.5 910.4L1943.5 909.5L1944.5 908.1L1945.5 906.3L1946.5 903.6L1947.5 900.0L1948.5 896.2L1949.0 894.4L1949.5 892.6L1950.5 889.2L1951.5 885.8L1952.5 882.7L1953.3 880.5L1953.5 880.0L1954.5 877.7L1955.5 875.6L1956.5 873.8L1957.5 872.0L1958.5 870.1L1959.5 868.1L1960.3 866.4L1960.5 865.9L1961.5 863.4L1962.5 860.8L1963.5 858.1L1964.5 855.3L1965.5 852.5L1966.5 849.6L1967.5 846.5L1968.5 843.3L1969.5 839.9L1969.9 838.4L1970.5 836.1L1971.5 831.9L1972.5 827.4L1973.5 822.9L1974.3 819.4L1974.5 818.5L1975.5 814.1L1976.5 809.7L1977.5 805.7L1978.5 802.3L1978.6 802.0L1979.5 799.7L1980.5 797.5L1981.5 795.7L1982.5 794.4L1983.4 793.6L1983.5 793.5L1984.5 793.5L1985.5 794.5L1986.5 796.3L1987.5 798.6L1987.8 799.5L1988.5 802.7L1989.5 810.3L1990.5 820.8L1991.5 835.1L1992.4 851.2L1992.5 853.1L1993.5 873.2L1994.3 889.9L1994.5 894.1L1995.5 915.0L1996.5 935.8L1996.7 939.9L1997.5 956.3L1998.5 976.7L1999.2 991.4L1999.5 997.9L2000.5 1020.0L2001.5 1042.5L2001.8 1049.3L2002.5 1065.0L2003.4 1085.2L2003.5 1087.4L2004.4 1102.4L2004.5 1103.4L2005.5 1100.1L2006.5 1081.3L2007.0 1068.8L2007.5 1054.6L2008.5 1022.5L2008.8 1012.6L2009.5 989.8L2010.5 958.2L2010.6 955.1L2011.5 928.5L2012.5 906.1L2013.5 892.7L2014.5 883.5L2015.5 876.8L2015.8 875.2L2016.5 871.7L2017.5 867.3L2018.5 864.0L2018.7 863.6L2019.5 862.1L2020.5 860.7L2021.5 859.5L2022.5 858.4L2023.5 857.2L2024.5 855.7L2024.6 855.6L2025.5 854.1L2026.5 852.4L2027.5 850.6L2028.5 848.5L2029.5 846.3L2030.4 843.9L2030.5 843.6L2031.5 840.3L2032.5 836.3L2033.5 832.0L2034.5 827.6L2035.2 824.6L2035.5 823.4L2036.5 819.2L2037.5 815.1L2038.5 811.0L2039.5 807.1L2040.0 805.3L2040.5 803.5L2041.5 800.1L2042.5 796.8L2043.5 793.7L2044.5 790.5L2045.5 787.2L2045.9 785.9L2046.5 783.7L2047.5 780.1L2048.5 776.4L2049.5 772.7L2050.5 769.1L2050.7 768.4L2051.5 765.5L2052.5 761.9L2053.5 758.4L2054.5 755.3L2055.5 753.0L2056.5 751.2L2057.5 749.8L2058.5 748.6L2059.5 747.7L2060.5 747.2L2061.4 747.2L2061.5 747.2L2062.5 747.6L2063.5 748.6L2064.5 749.9L2065.5 751.6L2066.2 753.0L2066.5 753.7L2067.5 756.4L2068.5 759.7L2069.5 763.2L2070.5 766.7L2071.0 768.4L2071.5 770.1L2072.5 773.5L2073.5 776.9L2074.5 780.1L2075.5 782.9L2075.9 783.8L2076.5 785.1L2077.5 786.9L2078.5 788.2L2079.5 788.7L2079.8 788.6L2080.5 788.3L2081.5 787.2L2082.5 785.7L2083.5 784.0L2084.5 782.1L2084.6 781.9L2085.5 780.0L2086.5 777.6L2087.5 775.2L2088.5 773.4L2089.5 772.3L2090.5 771.6L2091.5 771.3L2092.3 771.4L2092.5 771.5L2093.5 772.2L2094.5 773.3L2095.5 774.9L2096.5 776.7L2097.2 778.2L2097.5 778.9L2098.5 781.5L2099.5 784.6L2100.5 788.1L2101.5 791.8L2102.0 793.6L2102.5 795.5L2103.5 799.3L2104.5 803.3L2105.5 807.3L2106.5 811.4L2106.9 813.0L2107.5 815.5L2108.5 819.6L2109.5 823.8L2110.5 827.8L2111.5 831.6L2111.7 832.3L2112.5 835.0L2113.5 838.1L2114.5 841.0L2115.5 843.8L2116.5 846.7L2117.5 849.8L2118.5 853.3L2119.5 856.9L2120.5 860.8L2121.5 865.1L2122.4 869.4L2122.5 869.9L2123.5 875.6L2124.5 882.2L2125.5 889.3L2126.2 894.3L2126.5 896.5L2127.5 903.8L2128.5 911.3L2129.5 918.9L2130.1 923.4L2130.5 926.3L2131.5 933.7L2132.5 941.0L2133.5 948.6L2134.0 952.5L2134.5 956.5L2135.5 964.9L2136.5 973.4L2137.5 982.0L2137.9 985.3L2138.5 990.2L2139.5 998.1L2140.5 1006.1L2141.5 1014.9L2141.7 1016.8L2142.5 1025.1L2143.5 1036.9L2144.5 1048.6L2145.5 1058.8L2145.6 1059.7L2146.5 1067.4L2147.5 1075.0L2148.5 1081.1L2149.5 1084.8L2150.1 1085.5L2150.5 1085.4L2151.5 1083.8L2152.5 1080.8L2153.5 1076.7L2154.5 1071.9L2155.3 1067.7L2155.5 1066.5L2156.5 1060.4L2157.5 1053.6L2158.5 1047.0L2159.2 1042.7L2159.5 1041.0L2160.5 1035.7L2161.5 1030.7L2162.5 1026.2L2163.0 1024.1L2163.5 1022.1L2164.5 1018.5L2165.5 1015.1L2166.5 1011.8L2167.5 1008.2L2167.9 1006.6L2168.5 1004.1L2169.5 999.7L2170.5 995.1L2171.5 990.5L2172.5 986.2L2172.7 985.4L2173.5 982.3L2174.5 978.7L2175.5 976.1L2175.6 975.9L2176.5 974.5L2177.5 973.5L2178.5 973.3L2179.5 974.0L2180.5 975.4L2181.5 977.3L2182.5 979.4L2183.5 981.6L2184.4 983.4L2184.5 983.6L2185.5 985.5L2186.5 987.3L2187.5 989.1L2188.5 990.8L2189.5 992.2L2190.2 992.9L2190.5 993.1L2191.5 992.8L2192.5 991.2L2193.5 988.6L2194.0 987.0L2194.5 985.0L2195.5 979.5L2196.5 972.5L2197.5 965.1L2197.9 962.2L2198.5 957.9L2199.5 950.9L2200.5 943.5L2201.5 935.5L2201.8 932.9L2202.5 926.6L2203.5 916.9L2204.5 906.7L2205.5 896.4L2205.7 894.3L2206.5 886.3L2207.5 876.2L2208.5 866.0L2209.5 855.4L2210.5 844.1L2211.5 832.5L2212.4 822.8L2212.5 821.8L2213.5 812.0L2214.5 804.0L2215.3 800.0L2215.5 799.3L2216.5 797.0L2217.5 795.5L2218.5 794.2L2219.5 792.8L2220.2 791.7L2220.5 791.1L2221.5 789.2L2222.5 787.3L2223.5 785.3L2224.5 783.1L2225.0 781.9L2225.5 780.4L2226.5 777.1L2227.5 773.7L2228.5 771.2L2228.9 770.6L2229.5 770.0L2230.5 769.4L2231.5 769.0L2232.5 768.7L2233.5 768.5L2233.8 768.4L2234.5 768.4L2235.5 768.4L2236.5 768.5L2237.5 768.6L2238.5 768.3L2238.6 768.2L2239.5 767.3L2240.5 765.5L2241.5 763.1L2242.5 760.7L2243.5 758.1L2244.5 755.2L2245.5 752.4L2246.5 750.3L2247.3 749.2L2247.5 749.1L2248.5 748.4L2249.5 748.0L2250.5 747.7L2251.5 747.5L2252.5 747.2L2253.1 747.1L2253.5 747.0L2254.5 746.8L2255.5 746.7L2256.5 746.6L2257.5 746.6L2258.5 746.6L2259.5 746.7L2259.9 746.9L2260.5 747.5L2261.5 749.8L2262.5 753.3L2263.5 757.5L2263.8 758.8L2264.5 762.3L2265.5 768.0L2266.5 774.3L2267.5 780.7L2267.7 782.0L2268.5 787.0L2269.5 793.2L2270.5 799.6L2271.5 806.2L2272.5 813.1L2273.5 820.3L2274.5 827.9L2275.5 836.0L2276.5 844.5L2277.3 851.9L2277.5 853.8L2278.5 864.2L2279.5 875.4L2280.5 886.6L2281.2 894.2L2281.5 897.3L2282.5 907.4L2283.5 917.3L2284.5 927.2L2285.1 933.1L2285.5 937.1L2286.5 947.0L2287.5 956.9L2288.5 966.8L2289.0 971.8L2289.5 976.9L2290.5 987.1L2291.5 997.3L2292.5 1007.6L2292.8 1010.6L2293.5 1017.9L2294.5 1028.5L2295.5 1038.7L2296.5 1048.1L2296.7 1049.9L2297.5 1056.7L2298.5 1064.6L2299.5 1071.3L2300.5 1075.6L2301.0 1076.5L2301.5 1076.7L2302.5 1074.5L2303.5 1069.9L2304.5 1063.9L2305.4 1057.9L2305.5 1057.2L2306.5 1049.1L2307.5 1038.8L2308.3 1028.9L2308.5 1026.2L2309.5 1010.9L2310.5 993.7L2311.2 981.6L2311.5 976.6L2312.5 959.8L2313.5 943.1L2314.1 932.9L2314.5 926.0L2315.5 908.5L2316.5 892.2L2317.0 885.2L2317.5 878.8L2318.5 867.5L2319.5 857.8L2320.5 849.2L2320.9 846.0L2321.5 841.5L2322.5 834.5L2323.5 827.7L2324.5 821.3L2325.5 814.9L2325.8 813.0L2326.5 808.6L2327.5 802.3L2328.5 796.1L2329.5 790.2L2330.5 784.5L2330.6 783.9L2331.5 779.0L2332.5 773.6L2333.5 768.5L2334.5 764.1L2335.4 760.9L2335.5 760.5L2336.5 757.7L2337.5 755.5L2338.5 753.8L2339.5 752.6L2340.3 752.2L2340.5 752.2L2341.5 753.2L2342.5 755.6L2343.5 759.5L2344.2 763.3L2344.5 765.5L2345.5 775.2L2346.5 786.8L2347.1 793.2L2347.5 797.1L2348.5 806.0L2349.5 813.5L2350.0 816.5L2350.5 819.1L2351.5 823.2L2352.5 825.5"/>
<path stroke="#5fc4ee" d="M202.5 1126.8L203.5 1126.8L204.5 1126.8L205.5 1126.8L206.5 1126.8L207.5 1126.8L208.5 1126.8L209.5 1126.7L210.5 1126.7L211.5 1126.7L212.5 1126.7L213.5 1126.7L214.5 1126.7L215.5 1126.7L216.5 1126.7L217.5 1126.7L218.5 1126.7L219.5 1126.7L220.5 1126.7L221.5 1126.7L222.5 1126.7L223.5 1126.6L224.5 1126.6L225.5 1126.6L226.5 1126.6L227.5 1126.6L228.5 1126.6L229.5 1126.6L230.5 1126.6L231.5 1126.6L232.5 1126.6L233.5 1126.6L234.5 1126.6L235.5 1126.6L236.5 1126.6L237.5 1126.6L238.5 1126.6L239.5 1126.5L240.5 1126.5L241.5 1126.5L242.5 1126.5L243.5 1126.5L244.5 1126.5L245.5 1126.5L246.5 1126.5L247.5 1126.5L248.5 1126.5L249.5 1126.5L250.5 1126.5L251.5 1126.5L252.5 1126.5L253.5 1126.5L254.5 1126.5L255.5 1126.4L256.5 1126.4L257.5 1126.4L258.5 1126.4L259.5 1126.4L260.5 1126.4L261.5 1126.4L262.5 1126.4L263.5 1126.4L264.5 1126.4L265.5 1126.4L266.5 1126.4L267.5 1126.4L268.5 1126.4L269.5 1126.4L270.5 1126.4L271.5 1126.4L272.5 1126.3L273.5 1126.3L274.5 1126.3L275.5 1126.3L276.5 1126.3L277.5 1126.3L278.5 1126.3L279.5 1126.3L280.5 1126.3L281.5 1126.3L282.5 1126.3L283.5 1126.3L284.5 1126.3L285.5 1126.3L286.5 1126.3L287.5 1126.3L288.5 1126.2L289.5 1126.2L290.5 1126.2L291.5 1126.2L292.5 1126.2L293.5 1126.2L294.5 1126.2L295.5 1126.2L296.5 1126.2L296.9 1126.2L297.5 1126.2L298.5 1126.2L299.5 1126.2L300.5 1126.2L301.5 1126.2L302.5 1126.2L303.5 1126.2L304.5 1126.2L305.5 1126.2L306.5 1126.2L307.5 1126.1L308.5 1126.1L309.5 1126.1L310.5 1126.1L311.5 1126.1L312.5 1126.1L313.5 1126.1L314.5 1126.1L315.5 1126.1L316.5 1126.1L317.5 1126.1L318.5 1126.1L319.5 1126.1L320.5 1126.1L321.5 1126.1L322.5 1126.1L323.5 1126.1L324.5 1126.1L325.5 1126.1L326.5 1126.1L327.5 1126.1L328.5 1126.1L329.5 1126.1L330.5 1126.1L331.5 1126.1L332.5 1126.1L333.5 1126.1L334.5 1126.1L335.5 1126.1L336.5 1126.1L337.5 1126.1L338.5 1126.1L339.5 1126.1L340.5 1126.1L341.5 1126.1L342.5 1126.1L343.5 1126.1L344.5 1126.1L345.5 1126.1L346.5 1126.1L347.5 1126.1L348.5 1126.1L349.5 1126.1L350.5 1126.1L351.5 1126.1L352.5 1126.1L353.5 1126.1L354.5 1126.1L355.5 1126.1L356.5 1126.1L357.5 1126.0L358.5 1126.0L359.5 1126.0L360.5 1126.0L361.5 1126.0L362.5 1126.0L363.5 1126.0L364.5 1126.0L365.5 1126.0L366.5 1126.0L367.5 1126.0L368.5 1126.0L369.5 1126.0L370.5 1126.0L371.5 1126.0L372.5 1125.9L373.5 1125.9L374.5 1125.8L375.5 1125.8L376.5 1125.7L377.5 1125.6L378.5 1125.5L379.5 1125.4L380.5 1125.3L381.5 1125.3L382.5 1125.2L383.5 1125.1L384.5 1125.0L385.5 1124.9L386.5 1124.9L387.5 1124.8L388.5 1124.7L388.9 1124.7L389.5 1124.7L390.5 1124.7L391.5 1124.7L392.5 1124.7L393.5 1124.8L394.5 1124.9L395.5 1125.0L396.5 1125.1L397.5 1125.2L398.5 1125.4L399.5 1125.5L400.5 1125.7L401.5 1125.9L402.5 1126.1L403.5 1126.3L404.5 1126.5L405.5 1126.7L405.8 1126.7L406.5 1126.9L407.5 1127.4L408.5 1127.9L409.5 1128.6L410.5 1129.4L411.5 1130.3L412.5 1131.3L413.5 1132.3L414.5 1133.5L415.5 1134.7L416.5 1136.1L417.5 1137.7L418.5 1139.6L419.5 1141.7L420.5 1144.0L421.5 1146.4L422.5 1148.9L422.8 1149.7L423.5 1151.7L424.5 1154.6L425.5 1157.7L426.5 1161.0L427.5 1164.5L428.5 1168.0L429.5 1171.6L430.0 1173.4L430.5 1175.3L431.5 1179.1L432.5 1183.0L433.5 1187.0L434.5 1191.0L435.5 1195.2L436.1 1197.7L436.5 1199.4L437.5 1203.6L438.5 1207.9L439.5 1212.2L440.5 1216.6L441.5 1220.9L442.1 1223.6L442.5 1225.3L443.5 1229.7L444.5 1234.2L445.5 1238.6L446.5 1243.0L447.0 1245.2L447.5 1247.4L448.5 1251.7L449.5 1256.1L450.5 1260.4L451.5 1264.8L452.5 1269.0L453.5 1273.3L454.2 1276.2L454.5 1277.5L455.5 1281.6L456.5 1285.7L457.5 1289.7L458.5 1293.7L459.5 1297.7L460.5 1301.5L461.5 1305.3L462.5 1309.1L462.7 1309.8L463.5 1312.8L464.5 1316.4L465.5 1320.0L466.5 1323.5L467.5 1326.9L468.5 1330.3L469.5 1333.7L470.5 1337.0L471.2 1339.3L471.5 1340.3L472.5 1343.6L473.5 1346.8L474.5 1349.9L475.5 1353.0L476.5 1356.0L477.5 1359.0L478.5 1361.9L479.5 1364.8L479.7 1365.4L480.5 1367.6L481.5 1370.3L482.5 1373.0L483.5 1375.6L484.5 1378.1L485.5 1380.6L486.5 1383.0L487.5 1385.4L488.5 1387.8L489.5 1390.0L490.5 1392.3L490.6 1392.5L491.5 1394.5L492.5 1396.6L493.5 1398.8L494.5 1400.9L495.5 1402.9L496.5 1405.0L497.5 1407.0L498.5 1409.0L499.5 1411.0L500.5 1413.0L501.5 1414.9L502.5 1416.9L503.5 1418.8L504.5 1420.7L505.1 1421.9L505.5 1422.6L506.5 1424.5L507.5 1426.4L508.5 1428.3L509.5 1430.2L510.5 1432.1L511.5 1433.9L512.5 1435.8L513.5 1437.7L514.5 1439.5L515.5 1441.4L516.5 1443.3L517.5 1445.1L518.5 1447.0L519.5 1448.9L520.5 1450.8L521.5 1452.7L522.0 1453.7L522.5 1454.7L523.5 1456.6L524.5 1458.6L525.5 1460.5L526.5 1462.5L527.5 1464.5L528.5 1466.5L529.5 1468.5L530.5 1470.5L531.5 1472.5L532.5 1474.5L533.5 1476.4L534.5 1478.4L535.5 1480.4L536.5 1482.4L537.5 1484.3L538.5 1486.2L539.0 1487.2L539.5 1488.1L540.5 1490.0L541.5 1491.9L542.5 1493.8L543.5 1495.7L544.5 1497.5L545.5 1499.4L546.5 1501.2L547.5 1503.1L548.5 1504.9L549.5 1506.7L550.5 1508.5L551.5 1510.4L552.5 1512.2L553.5 1514.0L554.5 1515.9L555.5 1517.7L556.5 1519.5L557.5 1521.3L558.5 1523.2L559.5 1525.0L560.5 1526.8L561.5 1528.7L562.5 1530.5L563.5 1532.3L564.5 1534.2L565.5 1536.0L566.5 1537.9L567.5 1539.7L568.5 1541.6L569.5 1543.4L570.2 1544.7L570.5 1545.3L571.5 1547.2L572.5 1549.0L573.5 1550.9L574.5 1552.8L575.5 1554.6L576.5 1556.5L577.5 1558.3L578.5 1560.1L579.5 1561.9L580.5 1563.7L581.5 1565.4L582.5 1567.0L583.5 1568.7L584.5 1570.3L584.7 1570.6L585.5 1571.8L586.5 1573.3L587.5 1574.8L588.5 1576.2L589.5 1577.5L590.5 1578.9L591.5 1580.2L592.5 1581.4L593.5 1582.6L594.5 1583.8L595.5 1584.9L596.5 1586.0L597.5 1587.1L598.5 1588.2L599.3 1589.0L599.5 1589.2L600.5 1590.2L601.5 1591.1L602.5 1592.0L603.5 1592.9L604.5 1593.8L605.5 1594.6L606.5 1595.3L607.5 1596.0L608.5 1596.7L609.5 1597.3L610.5 1597.9L611.4 1598.4L611.5 1598.5L612.5 1599.0L613.5 1599.4L614.5 1599.8L615.5 1600.2L616.5 1600.5L617.5 1600.8L618.5 1601.0L619.5 1601.2L620.5 1601.4L621.5 1601.5L622.5 1601.6L623.5 1601.7L624.5 1601.7L625.5 1601.7L626.5 1601.6L627.5 1601.6L628.5 1601.5L629.5 1601.3L630.5 1601.1L631.5 1601.0L632.5 1600.7L633.5 1600.5L634.5 1600.2L635.5 1600.0L635.6 1599.9L636.5 1599.6L637.5 1599.3L638.5 1599.0L639.5 1598.6L640.5 1598.2L641.5 1597.9L642.5 1597.4L643.5 1597.0L644.5 1596.6L645.5 1596.2L646.5 1595.7L647.5 1595.3L648.5 1594.9L649.5 1594.4L650.1 1594.1L650.5 1594.0L651.5 1593.5L652.5 1593.0L653.5 1592.6L654.5 1592.1L655.5 1591.7L656.5 1591.3L657.5 1590.8L658.5 1590.4L659.5 1590.1L660.5 1589.7L661.5 1589.4L662.5 1589.1L663.5 1588.8L664.5 1588.6L664.6 1588.5L665.5 1588.3L666.5 1588.2L667.5 1588.0L668.5 1587.9L669.5 1587.7L670.5 1587.7L671.5 1587.6L672.5 1587.5L673.5 1587.5L674.5 1587.5L675.5 1587.5L676.5 1587.5L677.5 1587.5L678.5 1587.5L679.2 1587.6L679.5 1587.6L680.5 1587.6L681.5 1587.7L682.5 1587.8L683.5 1587.9L684.5 1588.0L685.5 1588.0L686.5 1588.1L687.5 1588.2L688.5 1588.3L689.5 1588.4L690.5 1588.5L691.5 1588.5L692.5 1588.5L693.5 1588.5L693.7 1588.5L694.5 1588.5L695.5 1588.5L696.5 1588.4L697.5 1588.3L698.5 1588.2L699.5 1588.1L700.5 1587.9L701.5 1587.7L702.5 1587.4L703.5 1587.2L704.5 1586.9L705.5 1586.5L705.8 1586.4L706.5 1586.2L707.5 1585.8L708.5 1585.3L709.5 1584.8L710.5 1584.3L711.5 1583.8L712.5 1583.2L713.5 1582.5L714.5 1581.8L715.5 1581.1L716.5 1580.4L717.5 1579.6L717.9 1579.3L718.5 1578.8L719.5 1578.0L720.5 1577.1L721.5 1576.2L722.5 1575.3L723.5 1574.3L724.5 1573.3L725.5 1572.3L726.5 1571.2L727.5 1570.1L728.5 1569.0L729.5 1567.9L730.0 1567.3L730.5 1566.7L731.5 1565.6L732.5 1564.4L733.5 1563.1L734.5 1561.9L735.5 1560.6L736.5 1559.3L737.5 1557.9L738.5 1556.6L739.5 1555.2L740.5 1553.7L741.5 1552.2L742.1 1551.3L742.5 1550.7L743.5 1549.2L744.5 1547.6L745.5 1546.0L746.5 1544.4L747.5 1542.8L748.5 1541.1L749.5 1539.4L750.5 1537.6L751.5 1535.9L752.5 1534.1L753.5 1532.3L754.2 1531.1L754.5 1530.5L755.5 1528.7L756.5 1526.9L757.5 1525.0L758.5 1523.1L759.5 1521.2L760.5 1519.3L761.5 1517.4L762.5 1515.5L763.5 1513.5L764.5 1511.5L765.5 1509.5L766.3 1507.9L766.5 1507.4L767.5 1505.4L768.5 1503.3L769.5 1501.2L770.5 1499.1L771.5 1496.9L772.5 1494.8L773.5 1492.6L774.5 1490.4L775.5 1488.2L776.5 1486.0L777.5 1483.8L778.5 1481.6L779.5 1479.4L780.5 1477.2L781.5 1475.0L782.5 1472.8L783.5 1470.6L784.5 1468.4L785.5 1466.2L786.5 1464.0L787.5 1461.8L788.5 1459.6L789.5 1457.4L790.5 1455.3L790.6 1455.0L791.5 1453.1L792.5 1450.9L793.5 1448.7L794.5 1446.5L795.5 1444.3L796.5 1442.2L797.5 1440.0L798.5 1437.8L799.5 1435.7L800.5 1433.5L801.5 1431.3L802.5 1429.2L803.5 1427.0L804.5 1424.8L805.1 1423.5L805.5 1422.7L806.5 1420.5L807.5 1418.3L808.5 1416.2L809.5 1414.0L810.5 1411.8L811.5 1409.7L812.5 1407.5L813.5 1405.3L814.5 1403.1L815.5 1400.9L816.5 1398.7L817.5 1396.5L818.5 1394.3L819.5 1392.0L819.6 1391.8L820.5 1389.8L821.5 1387.5L822.5 1385.2L823.5 1382.9L824.5 1380.6L825.5 1378.3L826.5 1376.0L827.5 1373.6L828.5 1371.3L829.5 1368.9L830.5 1366.6L831.5 1364.2L832.5 1361.9L833.5 1359.5L834.1 1358.1L834.5 1357.1L835.5 1354.8L836.5 1352.4L837.5 1350.0L838.5 1347.6L839.5 1345.2L840.5 1342.8L841.5 1340.4L842.5 1338.0L843.5 1335.6L844.5 1333.2L845.5 1330.8L846.5 1328.3L847.5 1325.9L848.5 1323.5L849.5 1321.0L850.5 1318.6L851.5 1316.2L852.5 1313.8L853.5 1311.4L854.5 1309.0L855.5 1306.6L856.5 1304.3L857.5 1302.0L858.5 1299.7L859.1 1298.4L859.5 1297.5L860.5 1295.3L861.5 1293.1L862.5 1291.0L863.5 1288.9L864.5 1286.9L865.5 1284.9L866.5 1283.0L867.5 1281.1L868.5 1279.3L869.5 1277.5L870.5 1275.8L870.7 1275.5L871.5 1274.1L872.5 1272.5L873.5 1271.0L874.5 1269.5L875.5 1268.0L876.5 1266.6L877.5 1265.2L878.5 1263.9L879.5 1262.6L880.4 1261.4L880.5 1261.3L881.5 1260.0L882.5 1258.8L883.5 1257.6L884.5 1256.4L885.5 1255.2L886.5 1254.0L887.5 1252.9L888.5 1251.7L889.5 1250.6L890.5 1249.4L891.5 1248.3L892.5 1247.2L893.5 1246.0L893.9 1245.6L894.5 1244.9L895.5 1243.8L896.5 1242.6L897.5 1241.5L898.5 1240.3L899.5 1239.2L900.5 1238.1L901.5 1236.9L902.5 1235.8L903.5 1234.7L904.5 1233.5L905.5 1232.4L906.5 1231.2L907.5 1230.1L908.5 1229.0L909.5 1227.8L910.5 1226.7L911.5 1225.5L912.5 1224.4L913.5 1223.3L914.5 1222.1L915.5 1221.0L916.5 1219.8L917.5 1218.7L918.5 1217.5L919.5 1216.4L920.5 1215.2L921.0 1214.6L921.5 1214.1L922.5 1212.9L923.5 1211.7L924.5 1210.6L925.5 1209.4L926.5 1208.3L927.5 1207.1L928.5 1206.0L929.5 1204.8L930.5 1203.7L931.5 1202.6L932.5 1201.5L932.7 1201.3L933.5 1200.4L934.5 1199.4L935.5 1198.3L936.5 1197.3L937.5 1196.3L938.5 1195.3L939.5 1194.4L940.5 1193.4L941.5 1192.5L942.5 1191.6L943.5 1190.7L944.5 1189.9L945.5 1189.1L945.8 1188.8L946.5 1188.3L947.5 1187.5L948.5 1186.7L949.5 1186.0L950.5 1185.2L951.5 1184.5L952.5 1183.8L953.5 1183.2L954.5 1182.5L955.5 1181.8L956.5 1181.2L957.5 1180.5L958.5 1179.9L959.5 1179.2L960.5 1178.6L961.5 1177.9L961.7 1177.8L962.5 1177.3L963.5 1176.6L964.5 1176.0L965.5 1175.4L966.5 1174.7L967.5 1174.1L968.5 1173.5L969.5 1172.9L970.5 1172.3L971.5 1171.6L972.5 1171.0L973.5 1170.5L974.5 1169.9L975.5 1169.3L976.5 1168.7L977.2 1168.3L977.5 1168.2L978.5 1167.6L979.5 1167.1L980.5 1166.5L981.5 1166.0L982.5 1165.5L983.5 1164.9L984.5 1164.4L985.5 1163.9L986.5 1163.4L987.5 1162.9L988.5 1162.4L989.5 1161.9L990.5 1161.4L991.5 1160.9L992.5 1160.4L993.5 1159.9L994.5 1159.4L994.6 1159.4L995.5 1158.9L996.5 1158.4L997.5 1157.9L998.5 1157.4L999.5 1156.9L1000.5 1156.4L1001.5 1155.9L1002.5 1155.4L1003.5 1155.0L1004.5 1154.5L1005.5 1154.0L1006.5 1153.5L1007.5 1153.0L1008.5 1152.5L1009.5 1152.0L1010.5 1151.5L1011.5 1151.0L1012.5 1150.5L1013.5 1150.1L1014.0 1149.8L1014.5 1149.6L1015.5 1149.1L1016.5 1148.6L1017.5 1148.2L1018.5 1147.7L1019.5 1147.2L1020.5 1146.8L1021.5 1146.3L1022.5 1145.9L1023.5 1145.4L1024.5 1144.9L1025.5 1144.5L1026.5 1144.0L1027.5 1143.6L1028.5 1143.2L1029.5 1142.7L1030.5 1142.3L1031.5 1141.8L1032.5 1141.4L1033.4 1141.0L1033.5 1141.0L1034.5 1140.6L1035.5 1140.1L1036.5 1139.7L1037.5 1139.3L1038.5 1138.9L1039.5 1138.5L1040.5 1138.0L1041.5 1137.6L1042.5 1137.2L1043.5 1136.8L1044.5 1136.4L1045.5 1136.0L1046.5 1135.7L1047.5 1135.3L1048.5 1134.9L1049.5 1134.5L1050.5 1134.2L1051.5 1133.8L1052.5 1133.5L1052.8 1133.4L1053.5 1133.1L1054.5 1132.8L1055.5 1132.5L1056.5 1132.2L1057.5 1131.9L1058.5 1131.6L1059.5 1131.3L1060.5 1131.0L1061.5 1130.7L1062.5 1130.4L1063.5 1130.2L1064.5 1129.9L1065.5 1129.6L1066.3 1129.4L1066.5 1129.4L1067.5 1129.1L1068.5 1128.9L1069.5 1128.6L1070.5 1128.4L1071.5 1128.2L1072.5 1127.9L1073.5 1127.7L1074.5 1127.5L1075.5 1127.3L1076.5 1127.2L1077.5 1127.0L1077.9 1127.0L1078.5 1126.9L1079.5 1126.8L1080.5 1126.7L1081.5 1126.5L1082.5 1126.4L1083.5 1126.3L1084.5 1126.3L1085.5 1126.2L1086.5 1126.1L1087.5 1126.0L1088.5 1126.0L1089.5 1126.0L1090.5 1125.9L1091.5 1125.9L1092.5 1125.9L1093.5 1125.9L1094.5 1125.9L1095.5 1125.9L1096.5 1125.9L1097.5 1125.9L1098.5 1125.9L1099.5 1125.9L1100.5 1125.9L1101.5 1125.9L1102.5 1125.9L1103.5 1125.9L1104.5 1125.9L1105.5 1125.9L1106.5 1125.9L1107.5 1125.9L1108.5 1125.9L1109.5 1125.9L1110.5 1125.9L1111.5 1125.9L1112.5 1125.9L1113.5 1125.9L1114.5 1125.9L1115.5 1125.9L1116.5 1125.9L1117.5 1125.9L1118.5 1125.9L1119.5 1125.9L1120.5 1125.9L1121.5 1125.9L1122.5 1125.9L1123.5 1125.9L1124.5 1125.9L1125.5 1125.9L1126.5 1125.9L1127.5 1125.9L1128.5 1125.9L1129.5 1125.9L1130.5 1125.9L1131.5 1125.9L1132.5 1125.9L1133.5 1125.9L1134.5 1125.9L1135.5 1125.9L1136.5 1125.9L1137.5 1125.9L1138.5 1125.9L1139.5 1125.9L1140.5 1125.9L1141.5 1125.9L1142.5 1125.9L1143.5 1125.9L1144.5 1125.9L1145.5 1125.9L1146.5 1125.9L1147.5 1125.9L1148.5 1125.9L1149.5 1125.9L1150.5 1125.9L1151.5 1125.9L1152.5 1125.9L1153.5 1125.9L1154.5 1125.9L1155.5 1125.9L1156.5 1125.9L1157.5 1125.9L1158.5 1125.9L1159.5 1125.9L1160.5 1125.9L1161.5 1125.9L1162.5 1125.9L1163.5 1125.9L1164.5 1125.9L1165.5 1125.9L1166.5 1125.9L1167.5 1125.9L1168.5 1125.9L1169.5 1125.9L1170.5 1125.9L1171.5 1125.9L1172.5 1125.9L1173.5 1125.9L1174.5 1125.9L1175.5 1125.9L1176.5 1125.9L1177.5 1125.9L1178.5 1125.9L1179.5 1125.9L1180.5 1125.9L1181.5 1125.9L1182.5 1125.9L1183.5 1125.9L1184.5 1125.9L1185.5 1125.9L1186.5 1125.9L1187.5 1125.9L1188.5 1125.9L1189.5 1125.9L1190.5 1125.9L1191.5 1125.9L1192.5 1125.9L1193.5 1125.9L1194.5 1125.9L1195.5 1125.9L1196.5 1125.9L1197.5 1125.9L1198.5 1125.9L1199.5 1125.9L1200.5 1125.9L1201.5 1125.9L1202.5 1125.9L1203.5 1125.9L1204.5 1125.9L1205.5 1125.9L1206.5 1125.9L1207.5 1125.9L1208.5 1125.9L1209.5 1125.9L1210.5 1125.9L1211.5 1125.9L1212.5 1125.9L1213.5 1125.9L1214.5 1125.9L1215.5 1125.9L1216.5 1125.9L1217.5 1125.9L1218.5 1125.9L1219.5 1125.9L1220.5 1125.9L1221.5 1125.9L1222.5 1125.9L1223.5 1125.9L1224.5 1125.9L1225.5 1125.9L1226.5 1125.9L1227.5 1125.9L1228.5 1125.9L1229.5 1125.9L1230.0 1125.9L1230.5 1125.9L1231.5 1125.9L1232.5 1125.9L1233.5 1125.9L1234.5 1125.9L1235.5 1125.9L1236.5 1125.9L1237.5 1125.9L1238.5 1125.9L1239.5 1125.9L1240.5 1125.9L1241.5 1125.9L1242.5 1125.9L1243.5 1125.9L1244.5 1125.9L1245.5 1125.9L1246.5 1125.9L1247.5 1125.9L1248.5 1125.9L1249.5 1125.9L1250.5 1125.9L1251.5 1125.9L1252.5 1125.9L1253.5 1125.9L1254.5 1125.9L1255.5 1125.9L1256.5 1125.9L1257.5 1125.9L1258.5 1125.9L1259.5 1125.9L1260.5 1125.9L1261.5 1125.9L1262.5 1125.9L1263.5 1125.9L1264.5 1125.9L1265.5 1125.9L1266.5 1125.9L1267.5 1125.9L1268.5 1125.9L1269.5 1125.9L1270.5 1125.9L1271.5 1125.9L1272.5 1125.9L1273.5 1125.9L1274.5 1125.9L1275.5 1125.9L1276.5 1125.9L1277.5 1125.9L1278.5 1125.9L1279.5 1125.9L1280.5 1125.9L1281.5 1125.9L1282.5 1125.9L1283.5 1125.9L1284.5 1125.9L1285.5 1125.9L1286.5 1125.9L1287.5 1125.9L1288.5 1125.9L1289.5 1125.9L1290.5 1125.9L1291.5 1125.9L1292.5 1125.9L1293.5 1125.9L1294.5 1125.9L1295.5 1125.9L1296.5 1125.9L1297.5 1125.9L1298.5 1125.9L1299.5 1125.9L1300.5 1125.9L1301.5 1125.9L1302.5 1125.9L1303.5 1125.9L1304.5 1125.9L1305.5 1125.9L1306.5 1125.9L1307.5 1125.9L1308.5 1125.9L1309.5 1125.9L1310.5 1125.9L1311.5 1125.9L1312.5 1125.9L1313.5 1125.9L1314.5 1125.9L1315.5 1125.9L1316.5 1125.9L1317.5 1125.9L1318.5 1125.9L1319.5 1125.9L1320.5 1125.9L1321.5 1125.9L1322.5 1125.9L1323.5 1125.9L1324.5 1125.9L1325.5 1125.9L1326.5 1125.9L1327.5 1125.9L1328.5 1125.9L1329.5 1125.9L1330.5 1125.9L1331.5 1125.9L1332.5 1125.9L1333.5 1125.9L1334.5 1125.9L1335.5 1125.9L1336.5 1125.9L1337.5 1125.9L1338.5 1125.9L1339.5 1125.9L1340.5 1126.0L1341.5 1126.0L1342.5 1126.0L1343.5 1126.0L1344.5 1126.0L1345.5 1126.0L1346.5 1126.0L1347.5 1126.0L1348.5 1126.0L1349.5 1126.0L1350.5 1126.0L1351.5 1126.0L1352.5 1126.0L1353.5 1126.0L1354.5 1126.0L1355.5 1126.0L1356.5 1126.0L1357.5 1126.0L1358.5 1126.0L1359.5 1126.0L1360.5 1126.0L1361.5 1126.0L1362.5 1126.0L1363.5 1126.0L1364.5 1126.0L1365.5 1126.0L1366.5 1126.0L1367.5 1126.0L1368.5 1126.0L1369.5 1126.0L1370.5 1126.0L1371.5 1126.0L1372.5 1126.0L1373.5 1126.0L1374.5 1126.0L1375.5 1126.0L1376.5 1126.0L1377.5 1126.0L1378.5 1126.0L1379.5 1126.0L1380.0 1126.0L1380.5 1126.0L1381.5 1126.0L1382.5 1126.0L1383.5 1126.1L1384.5 1126.1L1385.5 1126.1L1386.5 1126.2L1387.5 1126.2L1388.5 1126.3L1389.5 1126.3L1390.5 1126.4L1391.5 1126.5L1392.5 1126.5L1393.5 1126.6L1394.5 1126.7L1395.5 1126.7L1396.5 1126.8L1397.5 1126.9L1398.5 1126.9L1399.5 1127.0L1400.0 1127.0L1400.5 1127.0L1401.5 1127.1L1402.5 1127.1L1403.5 1127.2L1404.5 1127.2L1405.5 1127.3L1406.5 1127.3L1407.5 1127.4L1408.5 1127.4L1409.5 1127.5L1410.0 1127.5L1410.5 1127.6L1411.5 1127.8L1412.5 1128.2L1413.5 1128.6L1414.5 1129.0L1415.5 1129.3L1416.5 1129.4L1417.5 1129.2L1418.5 1128.7L1419.5 1128.1L1420.5 1127.5L1421.5 1127.1L1422.0 1127.0L1422.5 1127.0L1423.5 1127.1L1424.5 1127.1L1425.5 1127.2L1426.5 1127.3L1427.5 1127.3L1428.5 1127.4L1429.5 1127.5L1430.5 1127.6L1431.5 1127.7L1432.5 1127.8L1433.5 1128.0L1434.5 1128.1L1435.5 1128.2L1436.5 1128.2L1437.5 1128.3L1438.5 1128.4L1439.5 1128.5L1440.0 1128.5L1440.5 1128.5L1441.5 1128.6L1442.5 1128.6L1443.5 1128.7L1444.5 1128.8L1445.5 1128.9L1446.5 1128.9L1447.5 1129.0L1448.5 1129.1L1449.5 1129.1L1450.5 1129.2L1451.5 1129.3L1452.5 1129.3L1453.5 1129.4L1454.5 1129.4L1455.5 1129.4L1456.5 1129.5L1457.5 1129.5L1458.5 1129.5L1459.5 1129.5L1460.0 1129.5L1460.5 1129.5L1461.5 1129.5L1462.5 1129.5L1463.5 1129.4L1464.5 1129.4L1465.5 1129.4L1466.5 1129.4L1467.5 1129.4L1468.5 1129.3L1469.5 1129.3L1470.5 1129.3L1471.5 1129.2L1472.5 1129.2L1473.5 1129.2L1474.5 1129.2L1475.5 1129.1L1476.5 1129.1L1477.5 1129.1L1478.5 1129.0L1479.5 1129.0L1480.0 1129.0L1480.5 1129.0L1481.5 1129.0L1482.5 1128.9L1483.5 1128.9L1484.5 1128.9L1485.5 1128.9L1486.5 1128.8L1487.5 1128.8L1488.5 1128.8L1489.5 1128.8L1490.5 1128.7L1491.5 1128.7L1492.5 1128.7L1493.5 1128.7L1494.5 1128.6L1495.5 1128.6L1496.5 1128.6L1497.5 1128.6L1498.5 1128.5L1499.5 1128.5L1500.0 1128.5L1500.5 1128.5L1501.5 1128.5L1502.5 1128.4L1503.5 1128.4L1504.5 1128.4L1505.5 1128.4L1506.5 1128.3L1507.5 1128.3L1508.5 1128.2L1509.5 1128.2L1510.5 1128.2L1511.5 1128.1L1512.5 1128.1L1513.5 1128.0L1514.0 1128.0L1514.5 1127.9L1515.5 1127.5L1516.5 1127.0L1517.5 1126.5L1518.5 1126.1L1519.0 1126.1L1519.5 1126.1L1520.5 1126.2L1521.5 1126.4L1522.5 1126.8L1523.5 1127.1L1524.5 1127.3L1525.5 1127.5L1526.0 1127.5L1526.5 1127.5L1527.5 1127.5L1528.5 1127.5L1529.5 1127.4L1530.5 1127.4L1531.5 1127.4L1532.5 1127.3L1533.5 1127.3L1534.5 1127.3L1535.5 1127.2L1536.5 1127.2L1537.5 1127.2L1538.5 1127.1L1539.5 1127.1L1540.5 1127.0L1541.5 1127.0L1542.5 1126.9L1543.5 1126.9L1544.5 1126.8L1545.5 1126.8L1546.5 1126.8L1547.5 1126.7L1548.5 1126.7L1549.5 1126.7L1550.5 1126.6L1551.5 1126.6L1552.5 1126.6L1553.5 1126.5L1554.5 1126.5L1555.5 1126.5L1556.5 1126.5L1557.5 1126.5L1558.5 1126.5L1559.5 1126.5L1560.0 1126.5L1560.5 1126.5L1561.5 1126.5L1562.5 1126.5L1563.5 1126.6L1564.5 1126.6L1565.5 1126.6L1566.5 1126.6L1567.5 1126.7L1568.5 1126.7L1569.5 1126.7L1570.5 1126.7L1571.5 1126.8L1572.5 1126.8L1573.5 1126.9L1574.5 1126.9L1575.5 1126.9L1576.5 1127.0L1577.5 1127.0L1578.5 1127.0L1579.5 1127.1L1580.5 1127.1L1581.5 1127.1L1582.5 1127.2L1583.5 1127.2L1584.5 1127.3L1585.5 1127.3L1586.5 1127.3L1587.5 1127.3L1588.5 1127.4L1589.5 1127.4L1590.5 1127.4L1591.5 1127.4L1592.5 1127.5L1593.5 1127.5L1594.5 1127.5L1595.5 1127.5L1596.5 1127.5L1597.5 1127.5L1598.5 1127.5L1599.5 1127.5L1600.0 1127.5L1600.5 1127.5L1601.5 1127.5L1602.5 1127.4L1603.5 1127.4L1604.5 1127.3L1605.5 1127.2L1606.5 1127.1L1607.5 1127.0L1608.5 1126.9L1609.5 1126.8L1610.5 1126.7L1611.5 1126.6L1612.5 1126.5L1613.5 1126.4L1614.5 1126.3L1615.5 1126.3L1616.5 1126.2L1617.5 1126.1L1618.5 1126.1L1619.5 1126.0L1620.0 1126.0L1620.5 1126.0L1621.5 1126.0L1622.5 1126.0L1623.5 1125.9L1624.5 1125.9L1625.5 1125.9L1626.5 1125.9L1627.5 1125.9L1628.5 1125.9L1629.5 1125.9L1630.5 1125.9L1631.5 1125.9L1632.5 1125.9L1633.5 1125.9L1634.5 1126.0L1635.5 1126.0L1636.5 1126.0L1637.5 1126.0L1638.5 1126.0L1639.5 1126.0L1640.5 1126.0L1641.5 1126.0L1642.5 1126.1L1643.5 1126.1L1644.5 1126.1L1645.5 1126.1L1646.5 1126.1L1647.5 1126.1L1648.5 1126.1L1649.5 1126.1L1650.0 1126.1L1650.5 1126.1L1651.5 1126.1L1652.5 1126.1L1653.5 1126.0L1654.5 1126.0L1655.5 1125.9L1656.5 1125.9L1657.5 1125.8L1658.5 1125.8L1659.5 1125.7L1660.5 1125.6L1661.5 1125.6L1662.5 1125.5L1663.5 1125.5L1664.5 1125.4L1665.5 1125.4L1666.5 1125.3L1667.4 1125.3L1667.5 1125.3L1668.5 1125.5L1669.5 1125.8L1670.5 1126.4L1671.5 1127.1L1672.5 1127.9L1673.5 1128.8L1674.4 1129.7L1674.5 1129.8L1675.5 1131.0L1676.5 1132.8L1677.5 1134.9L1678.5 1137.3L1679.5 1139.9L1679.6 1140.2L1680.5 1142.7L1681.5 1145.9L1682.5 1149.3L1683.5 1152.8L1684.5 1156.2L1684.9 1157.5L1685.5 1159.4L1686.5 1162.5L1687.5 1165.5L1688.5 1168.5L1689.5 1171.5L1690.1 1173.2L1690.5 1174.3L1691.5 1177.1L1692.5 1179.9L1693.5 1182.6L1694.5 1185.2L1695.3 1187.2L1695.5 1187.7L1696.5 1190.2L1697.5 1192.7L1698.5 1195.0L1699.5 1197.2L1700.5 1199.2L1700.6 1199.4L1701.5 1201.0L1702.5 1202.6L1703.5 1204.2L1704.5 1205.6L1705.5 1207.1L1706.5 1208.4L1707.5 1209.8L1708.5 1211.1L1709.5 1212.3L1710.5 1213.5L1711.5 1214.6L1712.5 1215.8L1713.5 1217.0L1714.5 1218.2L1715.5 1219.4L1716.2 1220.3L1716.5 1220.7L1717.5 1222.1L1718.5 1223.7L1719.5 1225.3L1720.5 1227.1L1721.5 1229.1L1722.3 1230.9L1722.5 1231.4L1723.5 1234.4L1724.5 1238.2L1725.5 1242.6L1726.5 1247.3L1726.7 1248.3L1727.5 1252.4L1728.5 1258.2L1729.5 1264.5L1730.2 1269.2L1730.5 1271.3L1731.5 1278.6L1732.5 1286.7L1733.5 1295.4L1733.7 1297.2L1734.5 1305.0L1735.5 1315.5L1736.5 1326.1L1737.1 1331.7L1737.5 1335.8L1738.5 1344.7L1739.5 1353.1L1740.5 1361.9L1741.1 1367.5L1741.5 1371.3L1742.5 1381.6L1743.5 1392.3L1744.5 1402.9L1744.5 1403.4L1745.5 1415.0L1746.5 1426.9L1747.4 1438.2L1747.5 1438.9L1748.5 1451.0L1749.5 1463.0L1750.4 1473.6L1750.5 1474.7L1751.5 1486.0L1752.5 1496.9L1753.5 1507.3L1753.7 1509.0L1754.5 1517.1L1755.5 1526.5L1756.5 1535.4L1757.5 1543.9L1757.6 1544.4L1758.5 1551.5L1759.5 1558.4L1760.5 1565.1L1761.5 1572.4L1762.4 1580.5L1762.5 1581.1L1763.5 1591.8L1764.2 1599.5L1764.5 1602.5L1764.6 1603.4L1765.5 1609.8L1765.9 1611.8L1766.5 1614.3L1767.0 1616.3L1767.5 1617.5L1768.5 1619.5L1769.0 1619.7L1769.5 1619.5L1770.5 1617.5L1771.0 1616.3L1771.5 1614.3L1772.1 1611.8L1772.5 1609.7L1773.4 1603.1L1773.5 1602.2L1773.8 1598.9L1774.5 1590.0L1775.2 1581.1L1775.5 1578.4L1776.5 1570.7L1777.5 1564.9L1778.5 1559.3L1779.5 1552.4L1779.6 1551.9L1780.5 1544.0L1781.5 1534.8L1782.5 1525.4L1782.6 1524.5L1783.5 1516.1L1784.5 1506.8L1785.5 1498.1L1785.6 1496.9L1786.5 1490.1L1787.5 1482.6L1788.5 1475.7L1789.5 1469.3L1789.5 1469.1L1790.5 1463.3L1791.5 1457.5L1792.5 1452.1L1793.5 1446.8L1794.5 1441.8L1794.6 1441.2L1795.5 1437.0L1796.5 1432.3L1797.5 1427.8L1798.5 1423.3L1799.5 1418.9L1800.5 1414.6L1800.7 1413.5L1801.5 1410.2L1802.5 1406.0L1803.5 1401.8L1804.5 1397.7L1805.5 1393.5L1806.5 1389.2L1807.3 1385.8L1807.5 1384.7L1808.5 1380.2L1809.5 1375.5L1810.5 1370.7L1811.5 1365.8L1812.5 1360.8L1813.1 1357.9L1813.5 1355.6L1814.5 1350.0L1815.5 1344.0L1816.5 1338.3L1817.5 1333.2L1818.2 1330.3L1818.5 1329.1L1819.5 1325.7L1820.5 1322.8L1821.5 1320.0L1822.5 1317.4L1823.5 1314.8L1824.3 1312.7L1824.5 1312.1L1825.5 1309.4L1826.5 1306.7L1827.5 1303.9L1828.5 1301.2L1829.5 1298.5L1830.5 1295.7L1831.3 1293.5L1831.5 1292.9L1832.5 1290.1L1833.5 1287.2L1834.5 1284.3L1835.5 1281.4L1836.5 1278.6L1837.4 1276.1L1837.5 1275.9L1838.5 1273.3L1839.5 1270.8L1840.5 1268.4L1841.5 1265.9L1842.5 1263.2L1843.5 1260.3L1844.5 1257.0L1845.5 1253.4L1846.5 1249.6L1847.5 1245.8L1848.5 1242.0L1848.7 1241.2L1849.5 1238.2L1850.5 1234.4L1851.5 1230.7L1852.5 1227.1L1853.5 1223.6L1854.0 1222.0L1854.5 1220.5L1855.5 1217.6L1856.5 1214.8L1857.5 1212.2L1858.5 1209.7L1859.2 1208.1L1859.5 1207.4L1860.5 1205.2L1861.5 1203.0L1862.5 1201.1L1863.5 1199.6L1863.6 1199.5L1864.5 1198.4L1865.5 1197.4L1866.5 1196.6L1867.5 1196.1L1867.9 1196.0L1868.5 1196.0L1869.5 1196.4L1870.5 1197.3L1871.5 1198.4L1872.3 1199.5L1872.5 1199.8L1873.5 1201.8L1874.5 1204.6L1875.5 1207.8L1876.5 1211.3L1876.6 1211.7L1877.5 1215.3L1878.5 1219.9L1879.5 1224.7L1880.5 1228.9L1881.0 1230.7L1881.5 1232.2L1882.5 1235.1L1883.5 1237.5L1884.5 1239.6L1885.4 1241.1L1885.5 1241.2L1886.5 1242.4L1887.5 1243.1L1888.5 1243.6L1889.5 1244.2L1890.5 1245.1L1891.5 1246.6L1892.5 1249.0L1893.5 1252.0L1894.5 1255.2L1895.5 1257.8L1895.8 1258.5L1896.5 1259.7L1897.5 1261.3L1898.5 1262.7L1899.5 1264.0L1900.5 1265.2L1901.5 1266.2L1902.5 1267.1L1902.8 1267.4L1903.5 1267.9L1904.5 1268.5L1905.5 1269.1L1906.5 1269.5L1907.5 1270.0L1908.5 1270.5L1909.5 1271.0L1910.5 1271.7L1911.5 1272.6L1912.5 1273.8L1913.5 1275.2L1914.5 1276.7L1915.5 1278.3L1916.5 1279.8L1917.5 1281.1L1917.6 1281.3L1918.5 1282.3L1919.5 1283.2L1920.5 1284.0L1921.5 1284.8L1922.5 1285.5L1923.5 1286.2L1924.5 1287.0L1925.5 1288.0L1926.5 1289.1L1927.2 1290.1L1927.5 1290.5L1928.5 1292.2L1929.5 1294.3L1930.5 1296.4L1931.5 1298.6L1932.4 1300.5L1932.5 1300.7L1933.5 1302.8L1934.5 1304.9L1935.5 1307.0L1936.5 1308.9L1937.5 1310.6L1937.7 1310.8L1938.5 1311.9L1939.5 1313.0L1940.5 1313.8L1941.5 1314.2L1942.0 1314.3L1942.5 1314.2L1943.5 1313.7L1944.5 1312.5L1945.5 1310.9L1946.4 1309.0L1946.5 1308.8L1947.5 1305.9L1948.5 1302.3L1949.5 1298.5L1949.9 1297.1L1950.5 1294.9L1951.5 1291.5L1952.5 1288.1L1953.5 1285.0L1954.2 1283.1L1954.5 1282.3L1955.5 1280.1L1956.5 1278.1L1957.5 1276.3L1958.5 1274.5L1959.5 1272.5L1960.3 1270.8L1960.5 1270.3L1961.5 1267.8L1962.5 1265.2L1963.5 1262.5L1964.5 1259.7L1965.5 1256.9L1966.5 1254.0L1967.5 1251.0L1968.5 1247.8L1969.5 1244.4L1969.9 1242.9L1970.5 1240.6L1971.5 1236.3L1972.5 1231.7L1973.5 1227.2L1974.3 1223.8L1974.5 1223.0L1975.5 1218.9L1976.5 1214.9L1977.5 1211.3L1978.5 1208.5L1978.6 1208.2L1979.5 1206.3L1980.5 1204.5L1981.5 1203.0L1982.5 1201.9L1983.4 1201.2L1983.5 1201.2L1984.5 1201.3L1985.5 1202.2L1986.5 1203.7L1987.5 1205.6L1987.8 1206.4L1988.5 1209.2L1989.5 1215.9L1990.5 1226.0L1991.5 1240.7L1992.4 1256.9L1992.5 1258.7L1993.5 1277.6L1994.4 1295.0L1994.5 1297.0L1995.5 1316.9L1996.5 1338.3L1996.6 1340.6L1997.5 1362.4L1998.5 1388.4L1998.8 1396.5L1999.5 1415.5L2000.5 1441.7L2001.0 1453.1L2001.5 1463.1L2002.5 1479.8L2003.2 1489.6L2003.5 1493.4L2004.5 1501.9L2004.6 1502.1L2005.5 1499.6L2006.5 1487.1L2007.5 1468.6L2008.5 1442.8L2009.5 1408.4L2010.5 1368.1L2011.0 1348.6L2011.5 1331.1L2012.5 1304.2L2012.6 1302.1L2013.5 1286.7L2014.5 1275.1L2014.9 1271.9L2015.5 1268.2L2016.5 1263.2L2017.5 1259.0L2018.5 1256.3L2018.7 1255.9L2019.5 1254.9L2020.5 1254.0L2021.5 1253.4L2022.5 1252.8L2023.5 1252.2L2024.5 1251.2L2025.5 1249.8L2026.5 1248.1L2027.5 1246.0L2028.5 1243.7L2029.5 1241.3L2030.5 1238.6L2031.3 1236.2L2031.5 1235.6L2032.5 1232.3L2033.5 1228.4L2034.5 1224.3L2035.5 1220.0L2036.2 1216.9L2036.5 1215.5L2037.5 1210.8L2038.5 1205.8L2039.5 1200.8L2040.5 1196.0L2041.0 1193.8L2041.5 1191.6L2042.5 1187.6L2043.5 1183.7L2044.5 1179.9L2045.5 1175.9L2045.9 1174.3L2046.5 1171.7L2047.5 1167.3L2048.5 1162.9L2049.5 1158.4L2050.5 1153.9L2050.7 1153.0L2051.5 1149.2L2052.5 1144.4L2053.5 1139.8L2054.5 1136.1L2054.6 1135.8L2055.5 1133.2L2056.5 1130.8L2057.5 1129.1L2058.5 1127.9L2059.5 1127.2L2060.5 1126.9L2061.4 1127.0L2061.5 1127.0L2062.5 1127.7L2063.5 1128.8L2064.5 1130.3L2065.5 1132.2L2066.2 1133.8L2066.5 1134.6L2067.5 1137.6L2068.5 1141.3L2069.5 1145.2L2070.5 1149.2L2071.0 1151.1L2071.5 1153.0L2072.5 1156.8L2073.5 1160.6L2074.5 1164.1L2075.5 1167.3L2075.9 1168.4L2076.5 1170.0L2077.5 1172.5L2078.5 1174.3L2079.5 1175.1L2079.8 1175.1L2080.5 1174.8L2081.5 1173.7L2082.5 1172.2L2083.5 1170.5L2084.5 1168.7L2084.6 1168.5L2085.5 1166.7L2086.5 1164.5L2087.5 1162.5L2088.5 1160.9L2089.5 1159.8L2090.5 1159.2L2091.5 1158.9L2092.3 1158.9L2092.5 1158.9L2093.5 1159.4L2094.5 1160.3L2095.5 1161.7L2096.5 1163.3L2097.2 1164.7L2097.5 1165.4L2098.5 1168.2L2099.5 1171.8L2100.5 1175.8L2101.5 1180.0L2102.0 1182.1L2102.5 1184.2L2103.5 1188.5L2104.5 1193.0L2105.5 1197.5L2106.5 1201.7L2106.9 1203.4L2107.5 1205.8L2108.5 1209.7L2109.5 1213.4L2110.5 1216.9L2111.5 1220.1L2111.7 1220.7L2112.5 1222.9L2113.5 1225.4L2114.5 1227.5L2115.5 1229.7L2116.5 1231.9L2117.5 1234.5L2118.5 1237.3L2119.5 1240.4L2120.5 1243.9L2121.5 1247.9L2122.4 1252.1L2122.5 1252.6L2123.5 1258.7L2124.5 1266.3L2125.5 1274.8L2126.2 1281.0L2126.5 1283.7L2127.5 1293.0L2128.5 1302.8L2129.5 1312.7L2130.1 1318.7L2130.5 1322.6L2131.5 1332.5L2132.5 1342.3L2133.5 1352.3L2134.5 1362.2L2135.0 1367.3L2135.5 1372.4L2136.5 1382.8L2137.5 1393.4L2138.5 1403.5L2139.5 1412.8L2139.8 1415.4L2140.5 1421.2L2141.5 1428.9L2142.5 1436.0L2143.5 1442.3L2144.5 1447.9L2144.6 1448.4L2145.5 1453.1L2146.5 1458.2L2147.5 1462.5L2148.5 1465.6L2149.5 1466.8L2150.5 1466.2L2151.5 1464.0L2152.5 1460.7L2153.5 1456.7L2154.5 1452.2L2155.3 1448.4L2155.5 1447.3L2156.5 1441.7L2157.5 1435.3L2158.5 1429.2L2159.2 1425.5L2159.5 1424.0L2160.5 1419.6L2161.5 1415.6L2162.5 1411.7L2163.5 1407.8L2164.0 1405.9L2164.5 1403.9L2165.5 1400.1L2166.5 1396.2L2167.5 1392.2L2168.5 1388.1L2168.9 1386.4L2169.5 1383.6L2170.5 1378.5L2171.5 1373.2L2172.5 1368.3L2173.5 1364.1L2173.7 1363.4L2174.5 1360.8L2175.5 1357.9L2176.5 1355.5L2177.5 1354.0L2178.5 1353.8L2179.5 1354.4L2180.5 1355.5L2181.5 1356.8L2182.5 1358.2L2183.4 1359.4L2183.5 1359.6L2184.5 1361.0L2185.5 1362.6L2186.5 1364.1L2187.5 1365.4L2188.2 1366.0L2188.5 1366.2L2189.5 1365.9L2190.5 1364.5L2191.5 1362.3L2192.5 1359.3L2193.1 1357.2L2193.5 1355.6L2194.5 1350.3L2195.5 1343.8L2196.5 1336.9L2196.9 1334.3L2197.5 1330.6L2198.5 1324.5L2199.5 1318.1L2200.5 1311.2L2200.8 1308.8L2201.5 1303.0L2202.5 1293.6L2203.5 1283.4L2204.5 1273.3L2204.7 1271.3L2205.5 1263.3L2206.5 1253.4L2207.5 1243.4L2208.5 1233.4L2208.6 1232.4L2209.5 1223.2L2210.5 1213.1L2211.5 1203.6L2212.5 1194.8L2213.5 1186.8L2214.4 1180.1L2214.5 1179.4L2215.5 1172.4L2216.5 1166.3L2217.3 1163.2L2217.5 1162.6L2218.5 1160.8L2219.5 1159.7L2220.5 1158.9L2221.5 1157.8L2222.1 1156.8L2222.5 1156.0L2223.5 1153.9L2224.5 1151.6L2225.5 1149.2L2226.5 1146.6L2227.0 1145.1L2227.5 1143.5L2228.5 1139.9L2229.5 1136.7L2229.9 1135.9L2230.5 1134.9L2231.5 1133.8L2232.5 1133.1L2233.5 1132.8L2233.8 1132.8L2234.5 1133.0L2235.5 1133.5L2236.5 1134.1L2237.5 1134.5L2238.5 1134.5L2238.6 1134.5L2239.5 1134.0L2240.5 1133.1L2241.5 1131.9L2242.5 1130.7L2243.4 1129.8L2243.5 1129.7L2244.5 1128.8L2245.5 1128.0L2246.5 1127.2L2247.5 1126.4L2248.3 1125.9L2248.5 1125.8L2249.5 1125.3L2250.5 1125.0L2251.5 1124.8L2252.5 1124.7L2253.5 1124.8L2254.5 1124.9L2255.5 1125.1L2256.5 1125.4L2257.5 1125.8L2258.5 1126.2L2258.9 1126.4L2259.5 1127.0L2260.5 1128.9L2261.5 1131.6L2262.5 1134.7L2262.8 1135.7L2263.5 1138.3L2264.5 1142.8L2265.5 1148.0L2266.5 1153.9L2266.7 1155.1L2267.5 1160.4L2268.5 1167.6L2269.5 1175.4L2270.5 1183.2L2270.6 1183.9L2271.5 1190.8L2272.5 1198.4L2273.5 1206.3L2274.5 1214.7L2275.4 1223.1L2275.5 1224.1L2276.5 1234.9L2277.5 1247.0L2278.5 1259.8L2279.3 1270.0L2279.5 1272.5L2280.5 1285.3L2281.5 1298.2L2282.5 1311.0L2283.1 1318.7L2283.5 1323.7L2284.5 1336.2L2285.5 1348.6L2286.5 1361.0L2287.0 1367.3L2287.5 1373.5L2288.5 1386.3L2289.5 1398.9L2290.5 1410.9L2290.9 1415.4L2291.5 1422.0L2292.5 1432.3L2293.5 1442.0L2294.5 1451.5L2294.8 1454.4L2295.5 1461.4L2296.5 1471.8L2297.5 1481.7L2298.5 1489.7L2299.5 1494.5L2299.6 1494.7L2300.5 1494.8L2301.5 1490.8L2302.5 1483.4L2303.5 1473.9L2304.5 1463.5L2305.4 1454.1L2305.5 1453.1L2306.5 1441.5L2307.5 1427.7L2308.3 1414.9L2308.5 1411.5L2309.5 1392.2L2310.5 1371.5L2310.7 1367.4L2311.5 1351.3L2312.5 1331.9L2313.2 1318.9L2313.5 1313.6L2314.5 1296.7L2315.5 1281.8L2315.6 1280.5L2316.5 1269.2L2317.5 1257.9L2318.5 1247.3L2319.0 1242.0L2319.5 1236.7L2320.5 1226.0L2321.5 1215.8L2322.5 1206.8L2322.9 1203.7L2323.5 1199.4L2324.5 1193.0L2325.5 1187.2L2326.5 1181.8L2327.5 1176.6L2328.5 1171.5L2328.7 1170.5L2329.5 1166.2L2330.5 1160.8L2331.5 1155.7L2332.5 1151.1L2333.5 1147.4L2334.5 1144.4L2335.5 1142.1L2336.5 1140.1L2337.5 1138.6L2338.4 1137.7L2338.5 1137.6L2339.5 1137.5L2340.5 1138.7L2341.5 1141.2L2342.2 1144.0L2342.5 1145.6L2343.5 1153.9L2344.5 1165.3L2345.5 1177.2L2346.1 1183.7L2346.5 1187.8L2347.5 1197.4L2348.5 1205.6L2349.0 1208.8L2349.5 1211.5L2350.5 1216.0L2351.5 1219.1L2352.5 1220.7"/>
</g>
<rect x="447.0" y="229.0" width="499.0" height="1467.4" fill="rgba(203,228,240,0.52)"/>
<rect x="1874.0" y="239.5" width="39.0" height="1173.1" fill="rgba(182,236,211,0.8)"/>
<g>
<line x1="1688.6" y1="1204.4" x2="1610.8" y2="1309.8" stroke="#000" stroke-width="6.3"/><polygon points="1587.5,1341.3 1603.3,1302.8 1619.7,1314.9" fill="#000" stroke="#000" stroke-width="5.6" stroke-linejoin="round"/>
<line x1="1746.5" y1="1605.0" x2="1621.9" y2="1661.1" stroke="#000" stroke-width="6.3"/><polygon points="1586.2,1677.2 1618.8,1651.3 1627.2,1669.9" fill="#000" stroke="#000" stroke-width="5.6" stroke-linejoin="round"/>
<line x1="1930.0" y1="1324.0" x2="1901.3" y2="1548.6" stroke="#000" stroke-width="6.3"/><polygon points="1896.4,1587.5 1891.4,1546.2 1911.6,1548.7" fill="#000" stroke="#000" stroke-width="5.6" stroke-linejoin="round"/>
<line x1="2007.0" y1="1512.0" x2="2024.8" y2="1608.0" stroke="#000" stroke-width="6.3"/><polygon points="2031.9,1646.5 2014.5,1608.7 2034.6,1605.0" fill="#000" stroke="#000" stroke-width="5.6" stroke-linejoin="round"/>
<line x1="2157.5" y1="1476.0" x2="2191.7" y2="1555.9" stroke="#000" stroke-width="6.3"/><polygon points="2207.1,1591.9 2181.8,1558.8 2200.6,1550.8" fill="#000" stroke="#000" stroke-width="5.6" stroke-linejoin="round"/>
</g>
<defs><clipPath id="one_t"><path d="M-20 -179.40 H179.40 V-10.35 H33.54 V6 H20.64 V-10.35 H-20 Z"/></clipPath>
<clipPath id="one_s"><path d="M-20 -144.00 H144.00 V-8.55 H26.98 V6 H16.50 V-8.55 H-20 Z"/></clipPath>
</defs>
<text class="a" font-size="89.70" text-anchor="middle" transform="translate(202.50,1900.70) scale(1,1.0420)">4000</text>
<text class="a" font-size="89.70" text-anchor="middle" transform="translate(533.17,1900.70) scale(1,1.0420)">3500</text>
<text class="a" font-size="89.70" text-anchor="middle" transform="translate(863.83,1900.70) scale(1,1.0420)">3000</text>
<text class="a" font-size="89.70" text-anchor="middle" transform="translate(1194.50,1900.70) scale(1,1.0420)">2500</text>
<text class="a" font-size="89.70" text-anchor="middle" transform="translate(1525.17,1900.70) scale(1,1.0420)">2000</text>
<text class="a" font-size="89.70" text-anchor="start" transform="translate(1758.66,1900.70) scale(1,1.0420)" clip-path="url(#one_t)">1</text>
<text class="a" font-size="89.70" text-anchor="start" transform="translate(1805.95,1900.70) scale(1,1.0420)">500</text>
<text class="a" font-size="89.70" text-anchor="start" transform="translate(2089.33,1900.70) scale(1,1.0420)" clip-path="url(#one_t)">1</text>
<text class="a" font-size="89.70" text-anchor="start" transform="translate(2136.61,1900.70) scale(1,1.0420)">000</text>
<text class="a" font-size="107.10" text-anchor="start" transform="translate(670.40,2028.90) scale(1,1.0400)">W</text>
<text class="a" font-size="107.10" text-anchor="start" transform="translate(771.49,2028.90) scale(1,0.9940)">avenumber</text>
<text class="c" font-size="88.00" transform="translate(1328.40,2024.30) scale(1.2350,0.9880)">（</text>
<text class="a" font-size="107.10" text-anchor="start" transform="translate(1446.00,2028.90) scale(1,0.9940)">cm</text>
<text class="a" font-size="72.00" text-anchor="start" transform="translate(1602.00,1984.80) scale(1,1.0400)">-</text>
<text class="a" font-size="72.00" text-anchor="start" transform="translate(1626.98,1984.80) scale(1,1.0400)" clip-path="url(#one_s)">1</text>
<text class="c" font-size="88.00" transform="translate(1672.50,2024.30) scale(1.2350,0.9880)">）</text>
<text class="s" font-size="106.40" text-anchor="middle" transform="translate(109.60,870.60) rotate(-90) scale(1,1.0000)">Transmittance (%)</text>
<text class="a" font-size="65.20" text-anchor="start" transform="translate(644.00,173.80) scale(1,1.0450)">O-H</text>
<text class="a" font-size="65.20" text-anchor="start" transform="translate(1815.50,184.30) scale(1,1.0450)">C-N</text>
<text class="a" font-size="65.20" text-anchor="start" transform="translate(1473.00,1410.60) scale(1,1.0450)">C=O</text>
<text class="a" font-size="65.20" text-anchor="start" transform="translate(1448.60,1701.60) scale(1,1.0450)">C=C</text>
<text class="a" font-size="65.20" text-anchor="start" transform="translate(1810.50,1640.60) scale(1,1.0450)">C-OH</text>
<text class="a" font-size="65.20" text-anchor="start" transform="translate(1975.00,1722.20) scale(1,1.0450)">C-O-C</text>
<text class="a" font-size="65.20" text-anchor="start" transform="translate(2151.60,1659.70) scale(1,1.0450)">C-O</text>
<text class="a" font-size="73.25" text-anchor="start" transform="translate(1073.30,241.10) scale(1,1.0380)">MCE/EDA/RGO-65</text>
<text class="a" font-size="73.25" text-anchor="start" transform="translate(1046.20,712.60) scale(1,1.0380)">MCE/EDA/RGO-45</text>
<text class="a" font-size="73.25" text-anchor="start" transform="translate(1054.60,1091.50) scale(1,1.0380)">MCE/EDA/RGO-25</text>
</svg>
</body></html>
